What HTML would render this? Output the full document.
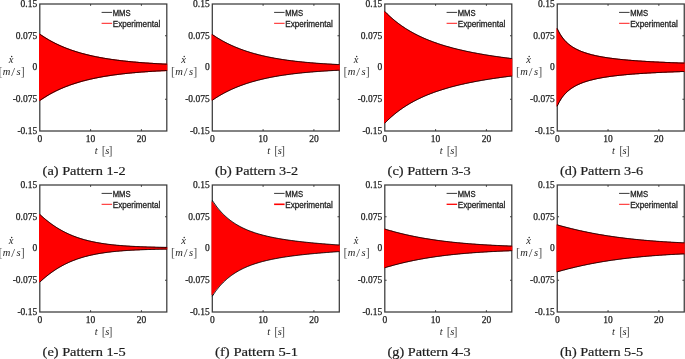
<!DOCTYPE html>
<html><head><meta charset="utf-8"><style>
html,body{margin:0;padding:0;background:#fff;width:685px;height:359px;overflow:hidden}
svg{display:block;will-change:transform}
text{fill:#1e1e1e}
.t{font-family:"Liberation Serif",serif;font-size:9.5px;stroke:#1e1e1e;stroke-width:0.25px}
.l{font-family:"Liberation Serif",serif;font-size:10.5px}
.b{font-family:"Liberation Serif",serif;font-size:12px;fill:#555}
.c{font-family:"Liberation Serif",serif;font-size:12.3px;stroke:#1e1e1e;stroke-width:0.2px}
.s{font-family:"Liberation Sans",sans-serif;font-size:8.8px;fill:#222;stroke:#222;stroke-width:0.3px}
</style></head><body>
<svg width="685" height="359" viewBox="0 0 685 359">
<rect width="685" height="359" fill="#fff"/>
<g>
<rect x="39.80" y="4.00" width="127.00" height="127.00" fill="none" stroke="#3a3a3a" stroke-width="1.25"/>
<path fill="none" stroke="#3a3a3a" stroke-width="1" d="M90.60,131.00V129.20M90.60,4.00V5.80M141.40,131.00V129.20M141.40,4.00V5.80M39.80,99.25H41.60M166.80,99.25H165.00M39.80,67.50H41.60M166.80,67.50H165.00M39.80,35.75H41.60M166.80,35.75H165.00"/>
<path fill="#ff0000" d="M39.00,33.61 L40.60,34.17 L41.40,34.72 L42.20,35.26 L42.99,35.79 L43.79,36.31 L44.59,36.82 L45.39,37.32 L46.19,37.82 L46.99,38.30 L47.79,38.78 L48.59,39.24 L49.38,39.70 L50.18,40.15 L50.98,40.59 L51.78,41.03 L52.58,41.46 L53.38,41.87 L54.18,42.29 L54.98,42.69 L55.77,43.09 L56.57,43.48 L57.37,43.86 L58.17,44.24 L58.97,44.61 L59.77,44.97 L60.57,45.33 L61.37,45.68 L62.16,46.02 L62.96,46.36 L63.76,46.69 L64.56,47.02 L65.36,47.34 L66.16,47.66 L66.96,47.96 L67.76,48.27 L68.55,48.57 L69.35,48.86 L70.15,49.15 L70.95,49.43 L71.75,49.71 L72.55,49.98 L73.35,50.25 L74.15,50.52 L74.94,50.77 L75.74,51.03 L76.54,51.28 L77.34,51.53 L78.14,51.77 L78.94,52.00 L79.74,52.24 L80.54,52.47 L81.33,52.69 L82.13,52.91 L82.93,53.13 L83.73,53.34 L84.53,53.55 L85.33,53.76 L86.13,53.96 L86.93,54.16 L87.72,54.36 L88.52,54.55 L89.32,54.74 L90.12,54.92 L90.92,55.11 L91.72,55.29 L92.52,55.46 L93.32,55.63 L94.11,55.80 L94.91,55.97 L95.71,56.14 L96.51,56.30 L97.31,56.46 L98.11,56.61 L98.91,56.77 L99.71,56.92 L100.50,57.06 L101.30,57.21 L102.10,57.35 L102.90,57.49 L103.70,57.63 L104.50,57.77 L105.30,57.90 L106.10,58.03 L106.89,58.16 L107.69,58.29 L108.49,58.41 L109.29,58.54 L110.09,58.66 L110.89,58.78 L111.69,58.89 L112.49,59.01 L113.28,59.12 L114.08,59.23 L114.88,59.34 L115.68,59.45 L116.48,59.55 L117.28,59.66 L118.08,59.76 L118.88,59.86 L119.67,59.96 L120.47,60.05 L121.27,60.15 L122.07,60.24 L122.87,60.33 L123.67,60.42 L124.47,60.51 L125.27,60.60 L126.06,60.69 L126.86,60.77 L127.66,60.85 L128.46,60.94 L129.26,61.02 L130.06,61.10 L130.86,61.17 L131.66,61.25 L132.45,61.33 L133.25,61.40 L134.05,61.47 L134.85,61.54 L135.65,61.62 L136.45,61.68 L137.25,61.75 L138.05,61.82 L138.84,61.89 L139.64,61.95 L140.44,62.01 L141.24,62.08 L142.04,62.14 L142.84,62.20 L143.64,62.26 L144.44,62.32 L145.23,62.38 L146.03,62.43 L146.83,62.49 L147.63,62.54 L148.43,62.60 L149.23,62.65 L150.03,62.70 L150.83,62.76 L151.62,62.81 L152.42,62.86 L153.22,62.91 L154.02,62.95 L154.82,63.00 L155.62,63.05 L156.42,63.10 L157.22,63.14 L158.01,63.19 L158.81,63.23 L159.61,63.27 L160.41,63.32 L161.21,63.36 L162.01,63.40 L162.81,63.44 L163.61,63.48 L164.40,63.52 L165.20,63.56 L166.00,63.60 L167.30,63.63 L167.30,71.07 L166.00,71.10 L165.20,71.14 L164.40,71.18 L163.61,71.22 L162.81,71.26 L162.01,71.30 L161.21,71.34 L160.41,71.38 L159.61,71.43 L158.81,71.47 L158.01,71.51 L157.22,71.56 L156.42,71.60 L155.62,71.65 L154.82,71.70 L154.02,71.75 L153.22,71.79 L152.42,71.84 L151.62,71.89 L150.83,71.94 L150.03,72.00 L149.23,72.05 L148.43,72.10 L147.63,72.16 L146.83,72.21 L146.03,72.27 L145.23,72.32 L144.44,72.38 L143.64,72.44 L142.84,72.50 L142.04,72.56 L141.24,72.62 L140.44,72.69 L139.64,72.75 L138.84,72.81 L138.05,72.88 L137.25,72.95 L136.45,73.02 L135.65,73.08 L134.85,73.16 L134.05,73.23 L133.25,73.30 L132.45,73.37 L131.66,73.45 L130.86,73.53 L130.06,73.60 L129.26,73.68 L128.46,73.76 L127.66,73.85 L126.86,73.93 L126.06,74.01 L125.27,74.10 L124.47,74.19 L123.67,74.28 L122.87,74.37 L122.07,74.46 L121.27,74.55 L120.47,74.65 L119.67,74.74 L118.88,74.84 L118.08,74.94 L117.28,75.04 L116.48,75.15 L115.68,75.25 L114.88,75.36 L114.08,75.47 L113.28,75.58 L112.49,75.69 L111.69,75.81 L110.89,75.92 L110.09,76.04 L109.29,76.16 L108.49,76.29 L107.69,76.41 L106.89,76.54 L106.10,76.67 L105.30,76.80 L104.50,76.93 L103.70,77.07 L102.90,77.21 L102.10,77.35 L101.30,77.49 L100.50,77.64 L99.71,77.78 L98.91,77.93 L98.11,78.09 L97.31,78.24 L96.51,78.40 L95.71,78.56 L94.91,78.73 L94.11,78.90 L93.32,79.07 L92.52,79.24 L91.72,79.41 L90.92,79.59 L90.12,79.78 L89.32,79.96 L88.52,80.15 L87.72,80.34 L86.93,80.54 L86.13,80.74 L85.33,80.94 L84.53,81.15 L83.73,81.36 L82.93,81.57 L82.13,81.79 L81.33,82.01 L80.54,82.23 L79.74,82.46 L78.94,82.70 L78.14,82.93 L77.34,83.17 L76.54,83.42 L75.74,83.67 L74.94,83.93 L74.15,84.18 L73.35,84.45 L72.55,84.72 L71.75,84.99 L70.95,85.27 L70.15,85.55 L69.35,85.84 L68.55,86.13 L67.76,86.43 L66.96,86.74 L66.16,87.04 L65.36,87.36 L64.56,87.68 L63.76,88.01 L62.96,88.34 L62.16,88.68 L61.37,89.02 L60.57,89.37 L59.77,89.73 L58.97,90.09 L58.17,90.46 L57.37,90.84 L56.57,91.22 L55.77,91.61 L54.98,92.01 L54.18,92.41 L53.38,92.83 L52.58,93.24 L51.78,93.67 L50.98,94.11 L50.18,94.55 L49.38,95.00 L48.59,95.46 L47.79,95.92 L46.99,96.40 L46.19,96.88 L45.39,97.38 L44.59,97.88 L43.79,98.39 L42.99,98.91 L42.20,99.44 L41.40,99.98 L40.60,100.53 L39.00,101.09Z"/>
<path fill="none" stroke="#000" stroke-width="0.95" d="M39.80,34.16 L40.60,34.72 L41.40,35.27 L42.20,35.81 L42.99,36.34 L43.79,36.86 L44.59,37.37 L45.39,37.87 L46.19,38.37 L46.99,38.85 L47.79,39.33 L48.59,39.79 L49.38,40.25 L50.18,40.70 L50.98,41.14 L51.78,41.58 L52.58,42.01 L53.38,42.42 L54.18,42.84 L54.98,43.24 L55.77,43.64 L56.57,44.03 L57.37,44.41 L58.17,44.79 L58.97,45.16 L59.77,45.52 L60.57,45.88 L61.37,46.23 L62.16,46.57 L62.96,46.91 L63.76,47.24 L64.56,47.57 L65.36,47.89 L66.16,48.21 L66.96,48.51 L67.76,48.82 L68.55,49.12 L69.35,49.41 L70.15,49.70 L70.95,49.98 L71.75,50.26 L72.55,50.53 L73.35,50.80 L74.15,51.07 L74.94,51.32 L75.74,51.58 L76.54,51.83 L77.34,52.08 L78.14,52.32 L78.94,52.55 L79.74,52.79 L80.54,53.02 L81.33,53.24 L82.13,53.46 L82.93,53.68 L83.73,53.89 L84.53,54.10 L85.33,54.31 L86.13,54.51 L86.93,54.71 L87.72,54.91 L88.52,55.10 L89.32,55.29 L90.12,55.47 L90.92,55.66 L91.72,55.84 L92.52,56.01 L93.32,56.18 L94.11,56.35 L94.91,56.52 L95.71,56.69 L96.51,56.85 L97.31,57.01 L98.11,57.16 L98.91,57.32 L99.71,57.47 L100.50,57.61 L101.30,57.76 L102.10,57.90 L102.90,58.04 L103.70,58.18 L104.50,58.32 L105.30,58.45 L106.10,58.58 L106.89,58.71 L107.69,58.84 L108.49,58.96 L109.29,59.09 L110.09,59.21 L110.89,59.33 L111.69,59.44 L112.49,59.56 L113.28,59.67 L114.08,59.78 L114.88,59.89 L115.68,60.00 L116.48,60.10 L117.28,60.21 L118.08,60.31 L118.88,60.41 L119.67,60.51 L120.47,60.60 L121.27,60.70 L122.07,60.79 L122.87,60.88 L123.67,60.97 L124.47,61.06 L125.27,61.15 L126.06,61.24 L126.86,61.32 L127.66,61.40 L128.46,61.49 L129.26,61.57 L130.06,61.65 L130.86,61.72 L131.66,61.80 L132.45,61.88 L133.25,61.95 L134.05,62.02 L134.85,62.09 L135.65,62.17 L136.45,62.23 L137.25,62.30 L138.05,62.37 L138.84,62.44 L139.64,62.50 L140.44,62.56 L141.24,62.63 L142.04,62.69 L142.84,62.75 L143.64,62.81 L144.44,62.87 L145.23,62.93 L146.03,62.98 L146.83,63.04 L147.63,63.09 L148.43,63.15 L149.23,63.20 L150.03,63.25 L150.83,63.31 L151.62,63.36 L152.42,63.41 L153.22,63.46 L154.02,63.50 L154.82,63.55 L155.62,63.60 L156.42,63.65 L157.22,63.69 L158.01,63.74 L158.81,63.78 L159.61,63.82 L160.41,63.87 L161.21,63.91 L162.01,63.95 L162.81,63.99 L163.61,64.03 L164.40,64.07 L165.20,64.11 L166.00,64.15 L166.80,64.18"/>
<path fill="none" stroke="#000" stroke-width="0.95" d="M39.80,100.54 L40.60,99.98 L41.40,99.43 L42.20,98.89 L42.99,98.36 L43.79,97.84 L44.59,97.33 L45.39,96.83 L46.19,96.33 L46.99,95.85 L47.79,95.37 L48.59,94.91 L49.38,94.45 L50.18,94.00 L50.98,93.56 L51.78,93.12 L52.58,92.69 L53.38,92.28 L54.18,91.86 L54.98,91.46 L55.77,91.06 L56.57,90.67 L57.37,90.29 L58.17,89.91 L58.97,89.54 L59.77,89.18 L60.57,88.82 L61.37,88.47 L62.16,88.13 L62.96,87.79 L63.76,87.46 L64.56,87.13 L65.36,86.81 L66.16,86.49 L66.96,86.19 L67.76,85.88 L68.55,85.58 L69.35,85.29 L70.15,85.00 L70.95,84.72 L71.75,84.44 L72.55,84.17 L73.35,83.90 L74.15,83.63 L74.94,83.38 L75.74,83.12 L76.54,82.87 L77.34,82.62 L78.14,82.38 L78.94,82.15 L79.74,81.91 L80.54,81.68 L81.33,81.46 L82.13,81.24 L82.93,81.02 L83.73,80.81 L84.53,80.60 L85.33,80.39 L86.13,80.19 L86.93,79.99 L87.72,79.79 L88.52,79.60 L89.32,79.41 L90.12,79.23 L90.92,79.04 L91.72,78.86 L92.52,78.69 L93.32,78.52 L94.11,78.35 L94.91,78.18 L95.71,78.01 L96.51,77.85 L97.31,77.69 L98.11,77.54 L98.91,77.38 L99.71,77.23 L100.50,77.09 L101.30,76.94 L102.10,76.80 L102.90,76.66 L103.70,76.52 L104.50,76.38 L105.30,76.25 L106.10,76.12 L106.89,75.99 L107.69,75.86 L108.49,75.74 L109.29,75.61 L110.09,75.49 L110.89,75.37 L111.69,75.26 L112.49,75.14 L113.28,75.03 L114.08,74.92 L114.88,74.81 L115.68,74.70 L116.48,74.60 L117.28,74.49 L118.08,74.39 L118.88,74.29 L119.67,74.19 L120.47,74.10 L121.27,74.00 L122.07,73.91 L122.87,73.82 L123.67,73.73 L124.47,73.64 L125.27,73.55 L126.06,73.46 L126.86,73.38 L127.66,73.30 L128.46,73.21 L129.26,73.13 L130.06,73.05 L130.86,72.98 L131.66,72.90 L132.45,72.82 L133.25,72.75 L134.05,72.68 L134.85,72.61 L135.65,72.53 L136.45,72.47 L137.25,72.40 L138.05,72.33 L138.84,72.26 L139.64,72.20 L140.44,72.14 L141.24,72.07 L142.04,72.01 L142.84,71.95 L143.64,71.89 L144.44,71.83 L145.23,71.77 L146.03,71.72 L146.83,71.66 L147.63,71.61 L148.43,71.55 L149.23,71.50 L150.03,71.45 L150.83,71.39 L151.62,71.34 L152.42,71.29 L153.22,71.24 L154.02,71.20 L154.82,71.15 L155.62,71.10 L156.42,71.05 L157.22,71.01 L158.01,70.96 L158.81,70.92 L159.61,70.88 L160.41,70.83 L161.21,70.79 L162.01,70.75 L162.81,70.71 L163.61,70.67 L164.40,70.63 L165.20,70.59 L166.00,70.55 L166.80,70.52"/>
<path stroke="#222" stroke-width="0.9" d="M101.60,12.40H112.10"/>
<path stroke="#ff0000" stroke-width="0.9" d="M101.60,23.30H112.10"/>
<text class="s" x="112.70" y="16.10" textLength="17.9" lengthAdjust="spacingAndGlyphs">MMS</text>
<text class="s" x="112.70" y="27.00" textLength="47.6" lengthAdjust="spacingAndGlyphs">Experimental</text>
<text class="t" x="37.20" y="6.90" text-anchor="end">0.15</text>
<text class="t" x="37.20" y="38.65" text-anchor="end">0.075</text>
<text class="t" x="37.20" y="70.40" text-anchor="end">0</text>
<text class="t" x="37.20" y="102.15" text-anchor="end">-0.075</text>
<text class="t" x="37.20" y="133.90" text-anchor="end">-0.15</text>
<text class="t" x="39.80" y="142.00" text-anchor="middle">0</text>
<text class="t" x="90.60" y="142.00" text-anchor="middle">10</text>
<text class="t" x="141.40" y="142.00" text-anchor="middle">20</text>
<text class="l" x="96.10" y="154.40" text-anchor="middle" font-style="italic">t</text>
<text class="b" x="103.80" y="154.70" text-anchor="middle">[</text>
<text class="l" x="107.20" y="154.40" text-anchor="middle" font-style="italic">s</text>
<text class="b" x="110.40" y="154.70" text-anchor="middle">]</text>
<text class="l" x="11.20" y="62.60" text-anchor="middle" font-style="italic">x</text>
<circle cx="11.70" cy="56.50" r="0.7" fill="#1e1e1e"/>
<text class="b" x="0.60" y="75.50" text-anchor="middle">[</text>
<text class="l" x="6.60" y="75.20" text-anchor="middle" font-style="italic">m</text>
<text class="b" x="13.20" y="76.00" text-anchor="middle" style="font-size:13.5px;fill:#444">/</text>
<text class="l" x="18.50" y="75.20" text-anchor="middle" font-style="italic">s</text>
<text class="b" x="22.70" y="75.50" text-anchor="middle">]</text>
<text class="c" x="84.10" y="175.00" text-anchor="middle" textLength="83" lengthAdjust="spacingAndGlyphs">(a) Pattern 1-2</text>
</g>
<g>
<rect x="212.30" y="4.00" width="127.00" height="127.00" fill="none" stroke="#3a3a3a" stroke-width="1.25"/>
<path fill="none" stroke="#3a3a3a" stroke-width="1" d="M263.10,131.00V129.20M263.10,4.00V5.80M313.90,131.00V129.20M313.90,4.00V5.80M212.30,99.25H214.10M339.30,99.25H337.50M212.30,67.50H214.10M339.30,67.50H337.50M212.30,35.75H214.10M339.30,35.75H337.50"/>
<path fill="#ff0000" d="M211.50,34.24 L213.10,34.79 L213.90,35.32 L214.70,35.85 L215.49,36.37 L216.29,36.88 L217.09,37.38 L217.89,37.87 L218.69,38.36 L219.49,38.83 L220.29,39.30 L221.09,39.76 L221.88,40.21 L222.68,40.66 L223.48,41.09 L224.28,41.52 L225.08,41.94 L225.88,42.36 L226.68,42.77 L227.48,43.17 L228.27,43.56 L229.07,43.95 L229.87,44.33 L230.67,44.70 L231.47,45.07 L232.27,45.43 L233.07,45.78 L233.87,46.13 L234.66,46.48 L235.46,46.81 L236.26,47.14 L237.06,47.47 L237.86,47.79 L238.66,48.10 L239.46,48.41 L240.26,48.72 L241.05,49.02 L241.85,49.31 L242.65,49.60 L243.45,49.88 L244.25,50.16 L245.05,50.43 L245.85,50.70 L246.65,50.97 L247.44,51.23 L248.24,51.48 L249.04,51.74 L249.84,51.98 L250.64,52.23 L251.44,52.46 L252.24,52.70 L253.04,52.93 L253.83,53.16 L254.63,53.38 L255.43,53.60 L256.23,53.81 L257.03,54.03 L257.83,54.23 L258.63,54.44 L259.43,54.64 L260.22,54.84 L261.02,55.03 L261.82,55.22 L262.62,55.41 L263.42,55.60 L264.22,55.78 L265.02,55.96 L265.82,56.13 L266.61,56.30 L267.41,56.47 L268.21,56.64 L269.01,56.80 L269.81,56.97 L270.61,57.12 L271.41,57.28 L272.21,57.43 L273.00,57.58 L273.80,57.73 L274.60,57.88 L275.40,58.02 L276.20,58.16 L277.00,58.30 L277.80,58.43 L278.60,58.57 L279.39,58.70 L280.19,58.83 L280.99,58.96 L281.79,59.08 L282.59,59.20 L283.39,59.32 L284.19,59.44 L284.99,59.56 L285.78,59.67 L286.58,59.79 L287.38,59.90 L288.18,60.01 L288.98,60.11 L289.78,60.22 L290.58,60.32 L291.38,60.43 L292.17,60.53 L292.97,60.62 L293.77,60.72 L294.57,60.82 L295.37,60.91 L296.17,61.00 L296.97,61.09 L297.77,61.18 L298.56,61.27 L299.36,61.36 L300.16,61.44 L300.96,61.53 L301.76,61.61 L302.56,61.69 L303.36,61.77 L304.16,61.85 L304.95,61.92 L305.75,62.00 L306.55,62.07 L307.35,62.15 L308.15,62.22 L308.95,62.29 L309.75,62.36 L310.55,62.43 L311.34,62.49 L312.14,62.56 L312.94,62.62 L313.74,62.69 L314.54,62.75 L315.34,62.81 L316.14,62.88 L316.94,62.94 L317.73,62.99 L318.53,63.05 L319.33,63.11 L320.13,63.17 L320.93,63.22 L321.73,63.28 L322.53,63.33 L323.33,63.38 L324.12,63.43 L324.92,63.48 L325.72,63.53 L326.52,63.58 L327.32,63.63 L328.12,63.68 L328.92,63.73 L329.72,63.77 L330.51,63.82 L331.31,63.86 L332.11,63.91 L332.91,63.95 L333.71,63.99 L334.51,64.04 L335.31,64.08 L336.11,64.12 L336.90,64.16 L337.70,64.20 L338.50,64.24 L339.80,64.27 L339.80,70.53 L338.50,70.56 L337.70,70.60 L336.90,70.64 L336.11,70.68 L335.31,70.72 L334.51,70.76 L333.71,70.81 L332.91,70.85 L332.11,70.89 L331.31,70.94 L330.51,70.98 L329.72,71.03 L328.92,71.07 L328.12,71.12 L327.32,71.17 L326.52,71.22 L325.72,71.27 L324.92,71.32 L324.12,71.37 L323.33,71.42 L322.53,71.47 L321.73,71.52 L320.93,71.58 L320.13,71.63 L319.33,71.69 L318.53,71.75 L317.73,71.81 L316.94,71.86 L316.14,71.92 L315.34,71.99 L314.54,72.05 L313.74,72.11 L312.94,72.18 L312.14,72.24 L311.34,72.31 L310.55,72.37 L309.75,72.44 L308.95,72.51 L308.15,72.58 L307.35,72.65 L306.55,72.73 L305.75,72.80 L304.95,72.88 L304.16,72.95 L303.36,73.03 L302.56,73.11 L301.76,73.19 L300.96,73.27 L300.16,73.36 L299.36,73.44 L298.56,73.53 L297.77,73.62 L296.97,73.71 L296.17,73.80 L295.37,73.89 L294.57,73.98 L293.77,74.08 L292.97,74.18 L292.17,74.27 L291.38,74.37 L290.58,74.48 L289.78,74.58 L288.98,74.69 L288.18,74.79 L287.38,74.90 L286.58,75.01 L285.78,75.13 L284.99,75.24 L284.19,75.36 L283.39,75.48 L282.59,75.60 L281.79,75.72 L280.99,75.84 L280.19,75.97 L279.39,76.10 L278.60,76.23 L277.80,76.37 L277.00,76.50 L276.20,76.64 L275.40,76.78 L274.60,76.92 L273.80,77.07 L273.00,77.22 L272.21,77.37 L271.41,77.52 L270.61,77.68 L269.81,77.83 L269.01,78.00 L268.21,78.16 L267.41,78.33 L266.61,78.50 L265.82,78.67 L265.02,78.84 L264.22,79.02 L263.42,79.20 L262.62,79.39 L261.82,79.58 L261.02,79.77 L260.22,79.96 L259.43,80.16 L258.63,80.36 L257.83,80.57 L257.03,80.77 L256.23,80.99 L255.43,81.20 L254.63,81.42 L253.83,81.64 L253.04,81.87 L252.24,82.10 L251.44,82.34 L250.64,82.57 L249.84,82.82 L249.04,83.06 L248.24,83.32 L247.44,83.57 L246.65,83.83 L245.85,84.10 L245.05,84.37 L244.25,84.64 L243.45,84.92 L242.65,85.20 L241.85,85.49 L241.05,85.78 L240.26,86.08 L239.46,86.39 L238.66,86.70 L237.86,87.01 L237.06,87.33 L236.26,87.66 L235.46,87.99 L234.66,88.32 L233.87,88.67 L233.07,89.02 L232.27,89.37 L231.47,89.73 L230.67,90.10 L229.87,90.47 L229.07,90.85 L228.27,91.24 L227.48,91.63 L226.68,92.03 L225.88,92.44 L225.08,92.86 L224.28,93.28 L223.48,93.71 L222.68,94.14 L221.88,94.59 L221.09,95.04 L220.29,95.50 L219.49,95.97 L218.69,96.44 L217.89,96.93 L217.09,97.42 L216.29,97.92 L215.49,98.43 L214.70,98.95 L213.90,99.48 L213.10,100.01 L211.50,100.56Z"/>
<path fill="none" stroke="#000" stroke-width="0.95" d="M212.30,34.54 L213.10,35.09 L213.90,35.62 L214.70,36.15 L215.49,36.67 L216.29,37.18 L217.09,37.68 L217.89,38.17 L218.69,38.66 L219.49,39.13 L220.29,39.60 L221.09,40.06 L221.88,40.51 L222.68,40.96 L223.48,41.39 L224.28,41.82 L225.08,42.24 L225.88,42.66 L226.68,43.07 L227.48,43.47 L228.27,43.86 L229.07,44.25 L229.87,44.63 L230.67,45.00 L231.47,45.37 L232.27,45.73 L233.07,46.08 L233.87,46.43 L234.66,46.78 L235.46,47.11 L236.26,47.44 L237.06,47.77 L237.86,48.09 L238.66,48.40 L239.46,48.71 L240.26,49.02 L241.05,49.32 L241.85,49.61 L242.65,49.90 L243.45,50.18 L244.25,50.46 L245.05,50.73 L245.85,51.00 L246.65,51.27 L247.44,51.53 L248.24,51.78 L249.04,52.04 L249.84,52.28 L250.64,52.53 L251.44,52.76 L252.24,53.00 L253.04,53.23 L253.83,53.46 L254.63,53.68 L255.43,53.90 L256.23,54.11 L257.03,54.33 L257.83,54.53 L258.63,54.74 L259.43,54.94 L260.22,55.14 L261.02,55.33 L261.82,55.52 L262.62,55.71 L263.42,55.90 L264.22,56.08 L265.02,56.26 L265.82,56.43 L266.61,56.60 L267.41,56.77 L268.21,56.94 L269.01,57.10 L269.81,57.27 L270.61,57.42 L271.41,57.58 L272.21,57.73 L273.00,57.88 L273.80,58.03 L274.60,58.18 L275.40,58.32 L276.20,58.46 L277.00,58.60 L277.80,58.73 L278.60,58.87 L279.39,59.00 L280.19,59.13 L280.99,59.26 L281.79,59.38 L282.59,59.50 L283.39,59.62 L284.19,59.74 L284.99,59.86 L285.78,59.97 L286.58,60.09 L287.38,60.20 L288.18,60.31 L288.98,60.41 L289.78,60.52 L290.58,60.62 L291.38,60.73 L292.17,60.83 L292.97,60.92 L293.77,61.02 L294.57,61.12 L295.37,61.21 L296.17,61.30 L296.97,61.39 L297.77,61.48 L298.56,61.57 L299.36,61.66 L300.16,61.74 L300.96,61.83 L301.76,61.91 L302.56,61.99 L303.36,62.07 L304.16,62.15 L304.95,62.22 L305.75,62.30 L306.55,62.37 L307.35,62.45 L308.15,62.52 L308.95,62.59 L309.75,62.66 L310.55,62.73 L311.34,62.79 L312.14,62.86 L312.94,62.92 L313.74,62.99 L314.54,63.05 L315.34,63.11 L316.14,63.18 L316.94,63.24 L317.73,63.29 L318.53,63.35 L319.33,63.41 L320.13,63.47 L320.93,63.52 L321.73,63.58 L322.53,63.63 L323.33,63.68 L324.12,63.73 L324.92,63.78 L325.72,63.83 L326.52,63.88 L327.32,63.93 L328.12,63.98 L328.92,64.03 L329.72,64.07 L330.51,64.12 L331.31,64.16 L332.11,64.21 L332.91,64.25 L333.71,64.29 L334.51,64.34 L335.31,64.38 L336.11,64.42 L336.90,64.46 L337.70,64.50 L338.50,64.54 L339.30,64.57"/>
<path fill="none" stroke="#000" stroke-width="0.95" d="M212.30,100.26 L213.10,99.71 L213.90,99.18 L214.70,98.65 L215.49,98.13 L216.29,97.62 L217.09,97.12 L217.89,96.63 L218.69,96.14 L219.49,95.67 L220.29,95.20 L221.09,94.74 L221.88,94.29 L222.68,93.84 L223.48,93.41 L224.28,92.98 L225.08,92.56 L225.88,92.14 L226.68,91.73 L227.48,91.33 L228.27,90.94 L229.07,90.55 L229.87,90.17 L230.67,89.80 L231.47,89.43 L232.27,89.07 L233.07,88.72 L233.87,88.37 L234.66,88.02 L235.46,87.69 L236.26,87.36 L237.06,87.03 L237.86,86.71 L238.66,86.40 L239.46,86.09 L240.26,85.78 L241.05,85.48 L241.85,85.19 L242.65,84.90 L243.45,84.62 L244.25,84.34 L245.05,84.07 L245.85,83.80 L246.65,83.53 L247.44,83.27 L248.24,83.02 L249.04,82.76 L249.84,82.52 L250.64,82.27 L251.44,82.04 L252.24,81.80 L253.04,81.57 L253.83,81.34 L254.63,81.12 L255.43,80.90 L256.23,80.69 L257.03,80.47 L257.83,80.27 L258.63,80.06 L259.43,79.86 L260.22,79.66 L261.02,79.47 L261.82,79.28 L262.62,79.09 L263.42,78.90 L264.22,78.72 L265.02,78.54 L265.82,78.37 L266.61,78.20 L267.41,78.03 L268.21,77.86 L269.01,77.70 L269.81,77.53 L270.61,77.38 L271.41,77.22 L272.21,77.07 L273.00,76.92 L273.80,76.77 L274.60,76.62 L275.40,76.48 L276.20,76.34 L277.00,76.20 L277.80,76.07 L278.60,75.93 L279.39,75.80 L280.19,75.67 L280.99,75.54 L281.79,75.42 L282.59,75.30 L283.39,75.18 L284.19,75.06 L284.99,74.94 L285.78,74.83 L286.58,74.71 L287.38,74.60 L288.18,74.49 L288.98,74.39 L289.78,74.28 L290.58,74.18 L291.38,74.07 L292.17,73.97 L292.97,73.88 L293.77,73.78 L294.57,73.68 L295.37,73.59 L296.17,73.50 L296.97,73.41 L297.77,73.32 L298.56,73.23 L299.36,73.14 L300.16,73.06 L300.96,72.97 L301.76,72.89 L302.56,72.81 L303.36,72.73 L304.16,72.65 L304.95,72.58 L305.75,72.50 L306.55,72.43 L307.35,72.35 L308.15,72.28 L308.95,72.21 L309.75,72.14 L310.55,72.07 L311.34,72.01 L312.14,71.94 L312.94,71.88 L313.74,71.81 L314.54,71.75 L315.34,71.69 L316.14,71.62 L316.94,71.56 L317.73,71.51 L318.53,71.45 L319.33,71.39 L320.13,71.33 L320.93,71.28 L321.73,71.22 L322.53,71.17 L323.33,71.12 L324.12,71.07 L324.92,71.02 L325.72,70.97 L326.52,70.92 L327.32,70.87 L328.12,70.82 L328.92,70.77 L329.72,70.73 L330.51,70.68 L331.31,70.64 L332.11,70.59 L332.91,70.55 L333.71,70.51 L334.51,70.46 L335.31,70.42 L336.11,70.38 L336.90,70.34 L337.70,70.30 L338.50,70.26 L339.30,70.23"/>
<path stroke="#222" stroke-width="0.9" d="M274.10,12.40H284.60"/>
<path stroke="#ff0000" stroke-width="0.9" d="M274.10,23.30H284.60"/>
<text class="s" x="285.20" y="16.10" textLength="17.9" lengthAdjust="spacingAndGlyphs">MMS</text>
<text class="s" x="285.20" y="27.00" textLength="47.6" lengthAdjust="spacingAndGlyphs">Experimental</text>
<text class="t" x="209.70" y="6.90" text-anchor="end">0.15</text>
<text class="t" x="209.70" y="38.65" text-anchor="end">0.075</text>
<text class="t" x="209.70" y="70.40" text-anchor="end">0</text>
<text class="t" x="209.70" y="102.15" text-anchor="end">-0.075</text>
<text class="t" x="209.70" y="133.90" text-anchor="end">-0.15</text>
<text class="t" x="212.30" y="142.00" text-anchor="middle">0</text>
<text class="t" x="263.10" y="142.00" text-anchor="middle">10</text>
<text class="t" x="313.90" y="142.00" text-anchor="middle">20</text>
<text class="l" x="268.60" y="154.40" text-anchor="middle" font-style="italic">t</text>
<text class="b" x="276.30" y="154.70" text-anchor="middle">[</text>
<text class="l" x="279.70" y="154.40" text-anchor="middle" font-style="italic">s</text>
<text class="b" x="282.90" y="154.70" text-anchor="middle">]</text>
<text class="l" x="183.70" y="62.60" text-anchor="middle" font-style="italic">x</text>
<circle cx="184.20" cy="56.50" r="0.7" fill="#1e1e1e"/>
<text class="b" x="173.10" y="75.50" text-anchor="middle">[</text>
<text class="l" x="179.10" y="75.20" text-anchor="middle" font-style="italic">m</text>
<text class="b" x="185.70" y="76.00" text-anchor="middle" style="font-size:13.5px;fill:#444">/</text>
<text class="l" x="191.00" y="75.20" text-anchor="middle" font-style="italic">s</text>
<text class="b" x="195.20" y="75.50" text-anchor="middle">]</text>
<text class="c" x="256.60" y="175.00" text-anchor="middle" textLength="83" lengthAdjust="spacingAndGlyphs">(b) Pattern 3-2</text>
</g>
<g>
<rect x="384.80" y="4.00" width="127.00" height="127.00" fill="none" stroke="#3a3a3a" stroke-width="1.25"/>
<path fill="none" stroke="#3a3a3a" stroke-width="1" d="M435.60,131.00V129.20M435.60,4.00V5.80M486.40,131.00V129.20M486.40,4.00V5.80M384.80,99.25H386.60M511.80,99.25H510.00M384.80,67.50H386.60M511.80,67.50H510.00M384.80,35.75H386.60M511.80,35.75H510.00"/>
<path fill="#ff0000" d="M384.00,11.13 L385.60,11.95 L386.40,12.76 L387.20,13.55 L387.99,14.32 L388.79,15.08 L389.59,15.83 L390.39,16.56 L391.19,17.27 L391.99,17.98 L392.79,18.67 L393.59,19.34 L394.38,20.01 L395.18,20.66 L395.98,21.30 L396.78,21.93 L397.58,22.55 L398.38,23.16 L399.18,23.75 L399.98,24.34 L400.77,24.91 L401.57,25.47 L402.37,26.03 L403.17,26.57 L403.97,27.11 L404.77,27.63 L405.57,28.15 L406.37,28.65 L407.16,29.15 L407.96,29.64 L408.76,30.12 L409.56,30.60 L410.36,31.06 L411.16,31.52 L411.96,31.97 L412.76,32.41 L413.55,32.85 L414.35,33.27 L415.15,33.69 L415.95,34.11 L416.75,34.51 L417.55,34.91 L418.35,35.31 L419.15,35.70 L419.94,36.08 L420.74,36.45 L421.54,36.82 L422.34,37.19 L423.14,37.55 L423.94,37.90 L424.74,38.25 L425.54,38.59 L426.33,38.92 L427.13,39.26 L427.93,39.58 L428.73,39.90 L429.53,40.22 L430.33,40.53 L431.13,40.84 L431.93,41.14 L432.72,41.44 L433.52,41.73 L434.32,42.02 L435.12,42.31 L435.92,42.59 L436.72,42.87 L437.52,43.14 L438.32,43.41 L439.11,43.68 L439.91,43.94 L440.71,44.20 L441.51,44.45 L442.31,44.71 L443.11,44.95 L443.91,45.20 L444.71,45.44 L445.50,45.68 L446.30,45.91 L447.10,46.15 L447.90,46.37 L448.70,46.60 L449.50,46.82 L450.30,47.04 L451.10,47.26 L451.89,47.48 L452.69,47.69 L453.49,47.90 L454.29,48.10 L455.09,48.31 L455.89,48.51 L456.69,48.71 L457.49,48.90 L458.28,49.10 L459.08,49.29 L459.88,49.48 L460.68,49.66 L461.48,49.85 L462.28,50.03 L463.08,50.21 L463.88,50.39 L464.67,50.57 L465.47,50.74 L466.27,50.91 L467.07,51.08 L467.87,51.25 L468.67,51.42 L469.47,51.58 L470.27,51.74 L471.06,51.90 L471.86,52.06 L472.66,52.22 L473.46,52.38 L474.26,52.53 L475.06,52.68 L475.86,52.83 L476.66,52.98 L477.45,53.13 L478.25,53.27 L479.05,53.42 L479.85,53.56 L480.65,53.70 L481.45,53.84 L482.25,53.98 L483.05,54.12 L483.84,54.25 L484.64,54.39 L485.44,54.52 L486.24,54.65 L487.04,54.78 L487.84,54.91 L488.64,55.04 L489.44,55.16 L490.23,55.29 L491.03,55.41 L491.83,55.53 L492.63,55.66 L493.43,55.78 L494.23,55.90 L495.03,56.01 L495.83,56.13 L496.62,56.25 L497.42,56.36 L498.22,56.47 L499.02,56.59 L499.82,56.70 L500.62,56.81 L501.42,56.92 L502.22,57.03 L503.01,57.13 L503.81,57.24 L504.61,57.35 L505.41,57.45 L506.21,57.55 L507.01,57.66 L507.81,57.76 L508.61,57.86 L509.40,57.96 L510.20,58.06 L511.00,58.16 L512.30,58.25 L512.30,76.35 L511.00,76.44 L510.20,76.54 L509.40,76.64 L508.61,76.74 L507.81,76.84 L507.01,76.94 L506.21,77.05 L505.41,77.15 L504.61,77.25 L503.81,77.36 L503.01,77.47 L502.22,77.57 L501.42,77.68 L500.62,77.79 L499.82,77.90 L499.02,78.01 L498.22,78.13 L497.42,78.24 L496.62,78.35 L495.83,78.47 L495.03,78.59 L494.23,78.70 L493.43,78.82 L492.63,78.94 L491.83,79.07 L491.03,79.19 L490.23,79.31 L489.44,79.44 L488.64,79.56 L487.84,79.69 L487.04,79.82 L486.24,79.95 L485.44,80.08 L484.64,80.21 L483.84,80.35 L483.05,80.48 L482.25,80.62 L481.45,80.76 L480.65,80.90 L479.85,81.04 L479.05,81.18 L478.25,81.33 L477.45,81.47 L476.66,81.62 L475.86,81.77 L475.06,81.92 L474.26,82.07 L473.46,82.22 L472.66,82.38 L471.86,82.54 L471.06,82.70 L470.27,82.86 L469.47,83.02 L468.67,83.18 L467.87,83.35 L467.07,83.52 L466.27,83.69 L465.47,83.86 L464.67,84.03 L463.88,84.21 L463.08,84.39 L462.28,84.57 L461.48,84.75 L460.68,84.94 L459.88,85.12 L459.08,85.31 L458.28,85.50 L457.49,85.70 L456.69,85.89 L455.89,86.09 L455.09,86.29 L454.29,86.50 L453.49,86.70 L452.69,86.91 L451.89,87.12 L451.10,87.34 L450.30,87.56 L449.50,87.78 L448.70,88.00 L447.90,88.23 L447.10,88.45 L446.30,88.69 L445.50,88.92 L444.71,89.16 L443.91,89.40 L443.11,89.65 L442.31,89.89 L441.51,90.15 L440.71,90.40 L439.91,90.66 L439.11,90.92 L438.32,91.19 L437.52,91.46 L436.72,91.73 L435.92,92.01 L435.12,92.29 L434.32,92.58 L433.52,92.87 L432.72,93.16 L431.93,93.46 L431.13,93.76 L430.33,94.07 L429.53,94.38 L428.73,94.70 L427.93,95.02 L427.13,95.34 L426.33,95.68 L425.54,96.01 L424.74,96.35 L423.94,96.70 L423.14,97.05 L422.34,97.41 L421.54,97.78 L420.74,98.15 L419.94,98.52 L419.15,98.90 L418.35,99.29 L417.55,99.69 L416.75,100.09 L415.95,100.49 L415.15,100.91 L414.35,101.33 L413.55,101.75 L412.76,102.19 L411.96,102.63 L411.16,103.08 L410.36,103.54 L409.56,104.00 L408.76,104.48 L407.96,104.96 L407.16,105.45 L406.37,105.95 L405.57,106.45 L404.77,106.97 L403.97,107.49 L403.17,108.03 L402.37,108.57 L401.57,109.13 L400.77,109.69 L399.98,110.26 L399.18,110.85 L398.38,111.44 L397.58,112.05 L396.78,112.67 L395.98,113.30 L395.18,113.94 L394.38,114.59 L393.59,115.26 L392.79,115.93 L391.99,116.62 L391.19,117.33 L390.39,118.04 L389.59,118.77 L388.79,119.52 L387.99,120.28 L387.20,121.05 L386.40,121.84 L385.60,122.65 L384.00,123.47Z"/>
<path fill="none" stroke="#000" stroke-width="0.95" d="M384.80,11.43 L385.60,12.25 L386.40,13.06 L387.20,13.85 L387.99,14.62 L388.79,15.38 L389.59,16.13 L390.39,16.86 L391.19,17.57 L391.99,18.28 L392.79,18.97 L393.59,19.64 L394.38,20.31 L395.18,20.96 L395.98,21.60 L396.78,22.23 L397.58,22.85 L398.38,23.46 L399.18,24.05 L399.98,24.64 L400.77,25.21 L401.57,25.77 L402.37,26.33 L403.17,26.87 L403.97,27.41 L404.77,27.93 L405.57,28.45 L406.37,28.95 L407.16,29.45 L407.96,29.94 L408.76,30.42 L409.56,30.90 L410.36,31.36 L411.16,31.82 L411.96,32.27 L412.76,32.71 L413.55,33.15 L414.35,33.57 L415.15,33.99 L415.95,34.41 L416.75,34.81 L417.55,35.21 L418.35,35.61 L419.15,36.00 L419.94,36.38 L420.74,36.75 L421.54,37.12 L422.34,37.49 L423.14,37.85 L423.94,38.20 L424.74,38.55 L425.54,38.89 L426.33,39.22 L427.13,39.56 L427.93,39.88 L428.73,40.20 L429.53,40.52 L430.33,40.83 L431.13,41.14 L431.93,41.44 L432.72,41.74 L433.52,42.03 L434.32,42.32 L435.12,42.61 L435.92,42.89 L436.72,43.17 L437.52,43.44 L438.32,43.71 L439.11,43.98 L439.91,44.24 L440.71,44.50 L441.51,44.75 L442.31,45.01 L443.11,45.25 L443.91,45.50 L444.71,45.74 L445.50,45.98 L446.30,46.21 L447.10,46.45 L447.90,46.67 L448.70,46.90 L449.50,47.12 L450.30,47.34 L451.10,47.56 L451.89,47.78 L452.69,47.99 L453.49,48.20 L454.29,48.40 L455.09,48.61 L455.89,48.81 L456.69,49.01 L457.49,49.20 L458.28,49.40 L459.08,49.59 L459.88,49.78 L460.68,49.96 L461.48,50.15 L462.28,50.33 L463.08,50.51 L463.88,50.69 L464.67,50.87 L465.47,51.04 L466.27,51.21 L467.07,51.38 L467.87,51.55 L468.67,51.72 L469.47,51.88 L470.27,52.04 L471.06,52.20 L471.86,52.36 L472.66,52.52 L473.46,52.68 L474.26,52.83 L475.06,52.98 L475.86,53.13 L476.66,53.28 L477.45,53.43 L478.25,53.57 L479.05,53.72 L479.85,53.86 L480.65,54.00 L481.45,54.14 L482.25,54.28 L483.05,54.42 L483.84,54.55 L484.64,54.69 L485.44,54.82 L486.24,54.95 L487.04,55.08 L487.84,55.21 L488.64,55.34 L489.44,55.46 L490.23,55.59 L491.03,55.71 L491.83,55.83 L492.63,55.96 L493.43,56.08 L494.23,56.20 L495.03,56.31 L495.83,56.43 L496.62,56.55 L497.42,56.66 L498.22,56.77 L499.02,56.89 L499.82,57.00 L500.62,57.11 L501.42,57.22 L502.22,57.33 L503.01,57.43 L503.81,57.54 L504.61,57.65 L505.41,57.75 L506.21,57.85 L507.01,57.96 L507.81,58.06 L508.61,58.16 L509.40,58.26 L510.20,58.36 L511.00,58.46 L511.80,58.55"/>
<path fill="none" stroke="#000" stroke-width="0.95" d="M384.80,123.17 L385.60,122.35 L386.40,121.54 L387.20,120.75 L387.99,119.98 L388.79,119.22 L389.59,118.47 L390.39,117.74 L391.19,117.03 L391.99,116.32 L392.79,115.63 L393.59,114.96 L394.38,114.29 L395.18,113.64 L395.98,113.00 L396.78,112.37 L397.58,111.75 L398.38,111.14 L399.18,110.55 L399.98,109.96 L400.77,109.39 L401.57,108.83 L402.37,108.27 L403.17,107.73 L403.97,107.19 L404.77,106.67 L405.57,106.15 L406.37,105.65 L407.16,105.15 L407.96,104.66 L408.76,104.18 L409.56,103.70 L410.36,103.24 L411.16,102.78 L411.96,102.33 L412.76,101.89 L413.55,101.45 L414.35,101.03 L415.15,100.61 L415.95,100.19 L416.75,99.79 L417.55,99.39 L418.35,98.99 L419.15,98.60 L419.94,98.22 L420.74,97.85 L421.54,97.48 L422.34,97.11 L423.14,96.75 L423.94,96.40 L424.74,96.05 L425.54,95.71 L426.33,95.38 L427.13,95.04 L427.93,94.72 L428.73,94.40 L429.53,94.08 L430.33,93.77 L431.13,93.46 L431.93,93.16 L432.72,92.86 L433.52,92.57 L434.32,92.28 L435.12,91.99 L435.92,91.71 L436.72,91.43 L437.52,91.16 L438.32,90.89 L439.11,90.62 L439.91,90.36 L440.71,90.10 L441.51,89.85 L442.31,89.59 L443.11,89.35 L443.91,89.10 L444.71,88.86 L445.50,88.62 L446.30,88.39 L447.10,88.15 L447.90,87.93 L448.70,87.70 L449.50,87.48 L450.30,87.26 L451.10,87.04 L451.89,86.82 L452.69,86.61 L453.49,86.40 L454.29,86.20 L455.09,85.99 L455.89,85.79 L456.69,85.59 L457.49,85.40 L458.28,85.20 L459.08,85.01 L459.88,84.82 L460.68,84.64 L461.48,84.45 L462.28,84.27 L463.08,84.09 L463.88,83.91 L464.67,83.73 L465.47,83.56 L466.27,83.39 L467.07,83.22 L467.87,83.05 L468.67,82.88 L469.47,82.72 L470.27,82.56 L471.06,82.40 L471.86,82.24 L472.66,82.08 L473.46,81.92 L474.26,81.77 L475.06,81.62 L475.86,81.47 L476.66,81.32 L477.45,81.17 L478.25,81.03 L479.05,80.88 L479.85,80.74 L480.65,80.60 L481.45,80.46 L482.25,80.32 L483.05,80.18 L483.84,80.05 L484.64,79.91 L485.44,79.78 L486.24,79.65 L487.04,79.52 L487.84,79.39 L488.64,79.26 L489.44,79.14 L490.23,79.01 L491.03,78.89 L491.83,78.77 L492.63,78.64 L493.43,78.52 L494.23,78.40 L495.03,78.29 L495.83,78.17 L496.62,78.05 L497.42,77.94 L498.22,77.83 L499.02,77.71 L499.82,77.60 L500.62,77.49 L501.42,77.38 L502.22,77.27 L503.01,77.17 L503.81,77.06 L504.61,76.95 L505.41,76.85 L506.21,76.75 L507.01,76.64 L507.81,76.54 L508.61,76.44 L509.40,76.34 L510.20,76.24 L511.00,76.14 L511.80,76.05"/>
<path stroke="#222" stroke-width="0.9" d="M446.60,12.40H457.10"/>
<path stroke="#ff0000" stroke-width="0.9" d="M446.60,23.30H457.10"/>
<text class="s" x="457.70" y="16.10" textLength="17.9" lengthAdjust="spacingAndGlyphs">MMS</text>
<text class="s" x="457.70" y="27.00" textLength="47.6" lengthAdjust="spacingAndGlyphs">Experimental</text>
<text class="t" x="382.20" y="6.90" text-anchor="end">0.15</text>
<text class="t" x="382.20" y="38.65" text-anchor="end">0.075</text>
<text class="t" x="382.20" y="70.40" text-anchor="end">0</text>
<text class="t" x="382.20" y="102.15" text-anchor="end">-0.075</text>
<text class="t" x="382.20" y="133.90" text-anchor="end">-0.15</text>
<text class="t" x="384.80" y="142.00" text-anchor="middle">0</text>
<text class="t" x="435.60" y="142.00" text-anchor="middle">10</text>
<text class="t" x="486.40" y="142.00" text-anchor="middle">20</text>
<text class="l" x="441.10" y="154.40" text-anchor="middle" font-style="italic">t</text>
<text class="b" x="448.80" y="154.70" text-anchor="middle">[</text>
<text class="l" x="452.20" y="154.40" text-anchor="middle" font-style="italic">s</text>
<text class="b" x="455.40" y="154.70" text-anchor="middle">]</text>
<text class="l" x="356.20" y="62.60" text-anchor="middle" font-style="italic">x</text>
<circle cx="356.70" cy="56.50" r="0.7" fill="#1e1e1e"/>
<text class="b" x="345.60" y="75.50" text-anchor="middle">[</text>
<text class="l" x="351.60" y="75.20" text-anchor="middle" font-style="italic">m</text>
<text class="b" x="358.20" y="76.00" text-anchor="middle" style="font-size:13.5px;fill:#444">/</text>
<text class="l" x="363.50" y="75.20" text-anchor="middle" font-style="italic">s</text>
<text class="b" x="367.70" y="75.50" text-anchor="middle">]</text>
<text class="c" x="429.10" y="175.00" text-anchor="middle" textLength="83" lengthAdjust="spacingAndGlyphs">(c) Pattern 3-3</text>
</g>
<g>
<rect x="557.25" y="4.00" width="127.00" height="127.00" fill="none" stroke="#3a3a3a" stroke-width="1.25"/>
<path fill="none" stroke="#3a3a3a" stroke-width="1" d="M608.05,131.00V129.20M608.05,4.00V5.80M658.85,131.00V129.20M658.85,4.00V5.80M557.25,99.25H559.05M684.25,99.25H682.45M557.25,67.50H559.05M684.25,67.50H682.45M557.25,35.75H559.05M684.25,35.75H682.45"/>
<path fill="#ff0000" d="M556.45,27.93 L558.05,29.68 L558.85,31.28 L559.65,32.75 L560.44,34.11 L561.24,35.36 L562.04,36.53 L562.84,37.61 L563.64,38.61 L564.44,39.56 L565.24,40.44 L566.04,41.27 L566.83,42.04 L567.63,42.78 L568.43,43.47 L569.23,44.12 L570.03,44.74 L570.83,45.33 L571.63,45.88 L572.43,46.41 L573.22,46.92 L574.02,47.40 L574.82,47.86 L575.62,48.29 L576.42,48.71 L577.22,49.11 L578.02,49.49 L578.82,49.86 L579.61,50.21 L580.41,50.55 L581.21,50.88 L582.01,51.19 L582.81,51.49 L583.61,51.78 L584.41,52.06 L585.21,52.33 L586.00,52.59 L586.80,52.85 L587.60,53.09 L588.40,53.32 L589.20,53.55 L590.00,53.77 L590.80,53.99 L591.60,54.19 L592.39,54.39 L593.19,54.59 L593.99,54.78 L594.79,54.96 L595.59,55.14 L596.39,55.31 L597.19,55.48 L597.99,55.64 L598.78,55.80 L599.58,55.95 L600.38,56.10 L601.18,56.25 L601.98,56.39 L602.78,56.53 L603.58,56.67 L604.38,56.80 L605.17,56.93 L605.97,57.05 L606.77,57.18 L607.57,57.30 L608.37,57.41 L609.17,57.53 L609.97,57.64 L610.77,57.75 L611.56,57.86 L612.36,57.96 L613.16,58.06 L613.96,58.16 L614.76,58.26 L615.56,58.36 L616.36,58.45 L617.16,58.54 L617.95,58.63 L618.75,58.72 L619.55,58.81 L620.35,58.89 L621.15,58.97 L621.95,59.05 L622.75,59.13 L623.55,59.21 L624.34,59.29 L625.14,59.36 L625.94,59.44 L626.74,59.51 L627.54,59.58 L628.34,59.65 L629.14,59.72 L629.94,59.79 L630.73,59.85 L631.53,59.92 L632.33,59.98 L633.13,60.05 L633.93,60.11 L634.73,60.17 L635.53,60.23 L636.33,60.29 L637.12,60.34 L637.92,60.40 L638.72,60.46 L639.52,60.51 L640.32,60.57 L641.12,60.62 L641.92,60.67 L642.72,60.72 L643.51,60.77 L644.31,60.82 L645.11,60.87 L645.91,60.92 L646.71,60.97 L647.51,61.02 L648.31,61.06 L649.11,61.11 L649.90,61.15 L650.70,61.20 L651.50,61.24 L652.30,61.28 L653.10,61.33 L653.90,61.37 L654.70,61.41 L655.50,61.45 L656.29,61.49 L657.09,61.53 L657.89,61.57 L658.69,61.61 L659.49,61.65 L660.29,61.68 L661.09,61.72 L661.89,61.76 L662.68,61.79 L663.48,61.83 L664.28,61.86 L665.08,61.90 L665.88,61.93 L666.68,61.97 L667.48,62.00 L668.28,62.03 L669.07,62.07 L669.87,62.10 L670.67,62.13 L671.47,62.16 L672.27,62.19 L673.07,62.22 L673.87,62.25 L674.67,62.28 L675.46,62.31 L676.26,62.34 L677.06,62.37 L677.86,62.40 L678.66,62.43 L679.46,62.45 L680.26,62.48 L681.06,62.51 L681.85,62.54 L682.65,62.56 L683.45,62.59 L684.75,62.62 L684.75,71.98 L683.45,72.01 L682.65,72.04 L681.85,72.06 L681.06,72.09 L680.26,72.12 L679.46,72.15 L678.66,72.17 L677.86,72.20 L677.06,72.23 L676.26,72.26 L675.46,72.29 L674.67,72.32 L673.87,72.35 L673.07,72.38 L672.27,72.41 L671.47,72.44 L670.67,72.47 L669.87,72.50 L669.07,72.53 L668.28,72.57 L667.48,72.60 L666.68,72.63 L665.88,72.67 L665.08,72.70 L664.28,72.74 L663.48,72.77 L662.68,72.81 L661.89,72.84 L661.09,72.88 L660.29,72.92 L659.49,72.95 L658.69,72.99 L657.89,73.03 L657.09,73.07 L656.29,73.11 L655.50,73.15 L654.70,73.19 L653.90,73.23 L653.10,73.27 L652.30,73.32 L651.50,73.36 L650.70,73.40 L649.90,73.45 L649.11,73.49 L648.31,73.54 L647.51,73.58 L646.71,73.63 L645.91,73.68 L645.11,73.73 L644.31,73.78 L643.51,73.83 L642.72,73.88 L641.92,73.93 L641.12,73.98 L640.32,74.03 L639.52,74.09 L638.72,74.14 L637.92,74.20 L637.12,74.26 L636.33,74.31 L635.53,74.37 L634.73,74.43 L633.93,74.49 L633.13,74.55 L632.33,74.62 L631.53,74.68 L630.73,74.75 L629.94,74.81 L629.14,74.88 L628.34,74.95 L627.54,75.02 L626.74,75.09 L625.94,75.16 L625.14,75.24 L624.34,75.31 L623.55,75.39 L622.75,75.47 L621.95,75.55 L621.15,75.63 L620.35,75.71 L619.55,75.79 L618.75,75.88 L617.95,75.97 L617.16,76.06 L616.36,76.15 L615.56,76.24 L614.76,76.34 L613.96,76.44 L613.16,76.54 L612.36,76.64 L611.56,76.74 L610.77,76.85 L609.97,76.96 L609.17,77.07 L608.37,77.19 L607.57,77.30 L606.77,77.42 L605.97,77.55 L605.17,77.67 L604.38,77.80 L603.58,77.93 L602.78,78.07 L601.98,78.21 L601.18,78.35 L600.38,78.50 L599.58,78.65 L598.78,78.80 L597.99,78.96 L597.19,79.12 L596.39,79.29 L595.59,79.46 L594.79,79.64 L593.99,79.82 L593.19,80.01 L592.39,80.21 L591.60,80.41 L590.80,80.61 L590.00,80.83 L589.20,81.05 L588.40,81.28 L587.60,81.51 L586.80,81.75 L586.00,82.01 L585.21,82.27 L584.41,82.54 L583.61,82.82 L582.81,83.11 L582.01,83.41 L581.21,83.72 L580.41,84.05 L579.61,84.39 L578.82,84.74 L578.02,85.11 L577.22,85.49 L576.42,85.89 L575.62,86.31 L574.82,86.74 L574.02,87.20 L573.22,87.68 L572.43,88.19 L571.63,88.72 L570.83,89.27 L570.03,89.86 L569.23,90.48 L568.43,91.13 L567.63,91.82 L566.83,92.56 L566.04,93.33 L565.24,94.16 L564.44,95.04 L563.64,95.99 L562.84,96.99 L562.04,98.07 L561.24,99.24 L560.44,100.49 L559.65,101.85 L558.85,103.32 L558.05,104.92 L556.45,106.67Z"/>
<path fill="none" stroke="#000" stroke-width="0.95" d="M557.25,28.43 L558.05,30.18 L558.85,31.78 L559.65,33.25 L560.44,34.61 L561.24,35.86 L562.04,37.03 L562.84,38.11 L563.64,39.11 L564.44,40.06 L565.24,40.94 L566.04,41.77 L566.83,42.54 L567.63,43.28 L568.43,43.97 L569.23,44.62 L570.03,45.24 L570.83,45.83 L571.63,46.38 L572.43,46.91 L573.22,47.42 L574.02,47.90 L574.82,48.36 L575.62,48.79 L576.42,49.21 L577.22,49.61 L578.02,49.99 L578.82,50.36 L579.61,50.71 L580.41,51.05 L581.21,51.38 L582.01,51.69 L582.81,51.99 L583.61,52.28 L584.41,52.56 L585.21,52.83 L586.00,53.09 L586.80,53.35 L587.60,53.59 L588.40,53.82 L589.20,54.05 L590.00,54.27 L590.80,54.49 L591.60,54.69 L592.39,54.89 L593.19,55.09 L593.99,55.28 L594.79,55.46 L595.59,55.64 L596.39,55.81 L597.19,55.98 L597.99,56.14 L598.78,56.30 L599.58,56.45 L600.38,56.60 L601.18,56.75 L601.98,56.89 L602.78,57.03 L603.58,57.17 L604.38,57.30 L605.17,57.43 L605.97,57.55 L606.77,57.68 L607.57,57.80 L608.37,57.91 L609.17,58.03 L609.97,58.14 L610.77,58.25 L611.56,58.36 L612.36,58.46 L613.16,58.56 L613.96,58.66 L614.76,58.76 L615.56,58.86 L616.36,58.95 L617.16,59.04 L617.95,59.13 L618.75,59.22 L619.55,59.31 L620.35,59.39 L621.15,59.47 L621.95,59.55 L622.75,59.63 L623.55,59.71 L624.34,59.79 L625.14,59.86 L625.94,59.94 L626.74,60.01 L627.54,60.08 L628.34,60.15 L629.14,60.22 L629.94,60.29 L630.73,60.35 L631.53,60.42 L632.33,60.48 L633.13,60.55 L633.93,60.61 L634.73,60.67 L635.53,60.73 L636.33,60.79 L637.12,60.84 L637.92,60.90 L638.72,60.96 L639.52,61.01 L640.32,61.07 L641.12,61.12 L641.92,61.17 L642.72,61.22 L643.51,61.27 L644.31,61.32 L645.11,61.37 L645.91,61.42 L646.71,61.47 L647.51,61.52 L648.31,61.56 L649.11,61.61 L649.90,61.65 L650.70,61.70 L651.50,61.74 L652.30,61.78 L653.10,61.83 L653.90,61.87 L654.70,61.91 L655.50,61.95 L656.29,61.99 L657.09,62.03 L657.89,62.07 L658.69,62.11 L659.49,62.15 L660.29,62.18 L661.09,62.22 L661.89,62.26 L662.68,62.29 L663.48,62.33 L664.28,62.36 L665.08,62.40 L665.88,62.43 L666.68,62.47 L667.48,62.50 L668.28,62.53 L669.07,62.57 L669.87,62.60 L670.67,62.63 L671.47,62.66 L672.27,62.69 L673.07,62.72 L673.87,62.75 L674.67,62.78 L675.46,62.81 L676.26,62.84 L677.06,62.87 L677.86,62.90 L678.66,62.93 L679.46,62.95 L680.26,62.98 L681.06,63.01 L681.85,63.04 L682.65,63.06 L683.45,63.09 L684.25,63.12"/>
<path fill="none" stroke="#000" stroke-width="0.95" d="M557.25,106.17 L558.05,104.42 L558.85,102.82 L559.65,101.35 L560.44,99.99 L561.24,98.74 L562.04,97.57 L562.84,96.49 L563.64,95.49 L564.44,94.54 L565.24,93.66 L566.04,92.83 L566.83,92.06 L567.63,91.32 L568.43,90.63 L569.23,89.98 L570.03,89.36 L570.83,88.77 L571.63,88.22 L572.43,87.69 L573.22,87.18 L574.02,86.70 L574.82,86.24 L575.62,85.81 L576.42,85.39 L577.22,84.99 L578.02,84.61 L578.82,84.24 L579.61,83.89 L580.41,83.55 L581.21,83.22 L582.01,82.91 L582.81,82.61 L583.61,82.32 L584.41,82.04 L585.21,81.77 L586.00,81.51 L586.80,81.25 L587.60,81.01 L588.40,80.78 L589.20,80.55 L590.00,80.33 L590.80,80.11 L591.60,79.91 L592.39,79.71 L593.19,79.51 L593.99,79.32 L594.79,79.14 L595.59,78.96 L596.39,78.79 L597.19,78.62 L597.99,78.46 L598.78,78.30 L599.58,78.15 L600.38,78.00 L601.18,77.85 L601.98,77.71 L602.78,77.57 L603.58,77.43 L604.38,77.30 L605.17,77.17 L605.97,77.05 L606.77,76.92 L607.57,76.80 L608.37,76.69 L609.17,76.57 L609.97,76.46 L610.77,76.35 L611.56,76.24 L612.36,76.14 L613.16,76.04 L613.96,75.94 L614.76,75.84 L615.56,75.74 L616.36,75.65 L617.16,75.56 L617.95,75.47 L618.75,75.38 L619.55,75.29 L620.35,75.21 L621.15,75.13 L621.95,75.05 L622.75,74.97 L623.55,74.89 L624.34,74.81 L625.14,74.74 L625.94,74.66 L626.74,74.59 L627.54,74.52 L628.34,74.45 L629.14,74.38 L629.94,74.31 L630.73,74.25 L631.53,74.18 L632.33,74.12 L633.13,74.05 L633.93,73.99 L634.73,73.93 L635.53,73.87 L636.33,73.81 L637.12,73.76 L637.92,73.70 L638.72,73.64 L639.52,73.59 L640.32,73.53 L641.12,73.48 L641.92,73.43 L642.72,73.38 L643.51,73.33 L644.31,73.28 L645.11,73.23 L645.91,73.18 L646.71,73.13 L647.51,73.08 L648.31,73.04 L649.11,72.99 L649.90,72.95 L650.70,72.90 L651.50,72.86 L652.30,72.82 L653.10,72.77 L653.90,72.73 L654.70,72.69 L655.50,72.65 L656.29,72.61 L657.09,72.57 L657.89,72.53 L658.69,72.49 L659.49,72.45 L660.29,72.42 L661.09,72.38 L661.89,72.34 L662.68,72.31 L663.48,72.27 L664.28,72.24 L665.08,72.20 L665.88,72.17 L666.68,72.13 L667.48,72.10 L668.28,72.07 L669.07,72.03 L669.87,72.00 L670.67,71.97 L671.47,71.94 L672.27,71.91 L673.07,71.88 L673.87,71.85 L674.67,71.82 L675.46,71.79 L676.26,71.76 L677.06,71.73 L677.86,71.70 L678.66,71.67 L679.46,71.65 L680.26,71.62 L681.06,71.59 L681.85,71.56 L682.65,71.54 L683.45,71.51 L684.25,71.48"/>
<path stroke="#222" stroke-width="0.9" d="M619.05,12.40H629.55"/>
<path stroke="#ff0000" stroke-width="0.9" d="M619.05,23.30H629.55"/>
<text class="s" x="630.15" y="16.10" textLength="17.9" lengthAdjust="spacingAndGlyphs">MMS</text>
<text class="s" x="630.15" y="27.00" textLength="47.6" lengthAdjust="spacingAndGlyphs">Experimental</text>
<text class="t" x="554.65" y="6.90" text-anchor="end">0.15</text>
<text class="t" x="554.65" y="38.65" text-anchor="end">0.075</text>
<text class="t" x="554.65" y="70.40" text-anchor="end">0</text>
<text class="t" x="554.65" y="102.15" text-anchor="end">-0.075</text>
<text class="t" x="554.65" y="133.90" text-anchor="end">-0.15</text>
<text class="t" x="557.25" y="142.00" text-anchor="middle">0</text>
<text class="t" x="608.05" y="142.00" text-anchor="middle">10</text>
<text class="t" x="658.85" y="142.00" text-anchor="middle">20</text>
<text class="l" x="613.55" y="154.40" text-anchor="middle" font-style="italic">t</text>
<text class="b" x="621.25" y="154.70" text-anchor="middle">[</text>
<text class="l" x="624.65" y="154.40" text-anchor="middle" font-style="italic">s</text>
<text class="b" x="627.85" y="154.70" text-anchor="middle">]</text>
<text class="l" x="528.65" y="62.60" text-anchor="middle" font-style="italic">x</text>
<circle cx="529.15" cy="56.50" r="0.7" fill="#1e1e1e"/>
<text class="b" x="518.05" y="75.50" text-anchor="middle">[</text>
<text class="l" x="524.05" y="75.20" text-anchor="middle" font-style="italic">m</text>
<text class="b" x="530.65" y="76.00" text-anchor="middle" style="font-size:13.5px;fill:#444">/</text>
<text class="l" x="535.95" y="75.20" text-anchor="middle" font-style="italic">s</text>
<text class="b" x="540.15" y="75.50" text-anchor="middle">]</text>
<text class="c" x="601.55" y="175.00" text-anchor="middle" textLength="83" lengthAdjust="spacingAndGlyphs">(d) Pattern 3-6</text>
</g>
<g>
<rect x="39.80" y="185.00" width="127.00" height="127.00" fill="none" stroke="#3a3a3a" stroke-width="1.25"/>
<path fill="none" stroke="#3a3a3a" stroke-width="1" d="M90.60,312.00V310.20M90.60,185.00V186.80M141.40,312.00V310.20M141.40,185.00V186.80M39.80,280.25H41.60M166.80,280.25H165.00M39.80,248.50H41.60M166.80,248.50H165.00M39.80,216.75H41.60M166.80,216.75H165.00"/>
<path fill="#ff0000" d="M39.00,214.08 L40.60,214.82 L41.40,215.55 L42.20,216.27 L42.99,216.97 L43.79,217.67 L44.59,218.35 L45.39,219.02 L46.19,219.68 L46.99,220.33 L47.79,220.96 L48.59,221.59 L49.38,222.20 L50.18,222.80 L50.98,223.39 L51.78,223.96 L52.58,224.53 L53.38,225.09 L54.18,225.63 L54.98,226.16 L55.77,226.68 L56.57,227.20 L57.37,227.70 L58.17,228.19 L58.97,228.67 L59.77,229.14 L60.57,229.60 L61.37,230.05 L62.16,230.49 L62.96,230.92 L63.76,231.34 L64.56,231.75 L65.36,232.15 L66.16,232.54 L66.96,232.93 L67.76,233.30 L68.55,233.67 L69.35,234.03 L70.15,234.38 L70.95,234.72 L71.75,235.06 L72.55,235.38 L73.35,235.70 L74.15,236.01 L74.94,236.31 L75.74,236.61 L76.54,236.90 L77.34,237.18 L78.14,237.45 L78.94,237.72 L79.74,237.98 L80.54,238.24 L81.33,238.49 L82.13,238.73 L82.93,238.97 L83.73,239.20 L84.53,239.42 L85.33,239.64 L86.13,239.85 L86.93,240.06 L87.72,240.26 L88.52,240.46 L89.32,240.65 L90.12,240.84 L90.92,241.02 L91.72,241.20 L92.52,241.37 L93.32,241.54 L94.11,241.70 L94.91,241.86 L95.71,242.02 L96.51,242.17 L97.31,242.32 L98.11,242.46 L98.91,242.60 L99.71,242.74 L100.50,242.87 L101.30,243.00 L102.10,243.12 L102.90,243.24 L103.70,243.36 L104.50,243.48 L105.30,243.59 L106.10,243.70 L106.89,243.80 L107.69,243.91 L108.49,244.01 L109.29,244.11 L110.09,244.20 L110.89,244.29 L111.69,244.38 L112.49,244.47 L113.28,244.56 L114.08,244.64 L114.88,244.72 L115.68,244.80 L116.48,244.88 L117.28,244.95 L118.08,245.02 L118.88,245.09 L119.67,245.16 L120.47,245.23 L121.27,245.29 L122.07,245.35 L122.87,245.41 L123.67,245.47 L124.47,245.53 L125.27,245.59 L126.06,245.64 L126.86,245.69 L127.66,245.75 L128.46,245.80 L129.26,245.84 L130.06,245.89 L130.86,245.94 L131.66,245.98 L132.45,246.03 L133.25,246.07 L134.05,246.11 L134.85,246.15 L135.65,246.19 L136.45,246.23 L137.25,246.26 L138.05,246.30 L138.84,246.33 L139.64,246.37 L140.44,246.40 L141.24,246.43 L142.04,246.46 L142.84,246.49 L143.64,246.52 L144.44,246.55 L145.23,246.58 L146.03,246.61 L146.83,246.63 L147.63,246.66 L148.43,246.68 L149.23,246.71 L150.03,246.73 L150.83,246.75 L151.62,246.78 L152.42,246.80 L153.22,246.82 L154.02,246.84 L154.82,246.86 L155.62,246.88 L156.42,246.90 L157.22,246.91 L158.01,246.93 L158.81,246.95 L159.61,246.97 L160.41,246.98 L161.21,247.00 L162.01,247.01 L162.81,247.03 L163.61,247.04 L164.40,247.06 L165.20,247.07 L166.00,247.08 L167.30,247.10 L167.30,249.40 L166.00,249.42 L165.20,249.43 L164.40,249.44 L163.61,249.46 L162.81,249.47 L162.01,249.49 L161.21,249.50 L160.41,249.52 L159.61,249.53 L158.81,249.55 L158.01,249.57 L157.22,249.59 L156.42,249.60 L155.62,249.62 L154.82,249.64 L154.02,249.66 L153.22,249.68 L152.42,249.70 L151.62,249.72 L150.83,249.75 L150.03,249.77 L149.23,249.79 L148.43,249.82 L147.63,249.84 L146.83,249.87 L146.03,249.89 L145.23,249.92 L144.44,249.95 L143.64,249.98 L142.84,250.01 L142.04,250.04 L141.24,250.07 L140.44,250.10 L139.64,250.13 L138.84,250.17 L138.05,250.20 L137.25,250.24 L136.45,250.27 L135.65,250.31 L134.85,250.35 L134.05,250.39 L133.25,250.43 L132.45,250.47 L131.66,250.52 L130.86,250.56 L130.06,250.61 L129.26,250.66 L128.46,250.70 L127.66,250.75 L126.86,250.81 L126.06,250.86 L125.27,250.91 L124.47,250.97 L123.67,251.03 L122.87,251.09 L122.07,251.15 L121.27,251.21 L120.47,251.27 L119.67,251.34 L118.88,251.41 L118.08,251.48 L117.28,251.55 L116.48,251.62 L115.68,251.70 L114.88,251.78 L114.08,251.86 L113.28,251.94 L112.49,252.03 L111.69,252.12 L110.89,252.21 L110.09,252.30 L109.29,252.39 L108.49,252.49 L107.69,252.59 L106.89,252.70 L106.10,252.80 L105.30,252.91 L104.50,253.02 L103.70,253.14 L102.90,253.26 L102.10,253.38 L101.30,253.50 L100.50,253.63 L99.71,253.76 L98.91,253.90 L98.11,254.04 L97.31,254.18 L96.51,254.33 L95.71,254.48 L94.91,254.64 L94.11,254.80 L93.32,254.96 L92.52,255.13 L91.72,255.30 L90.92,255.48 L90.12,255.66 L89.32,255.85 L88.52,256.04 L87.72,256.24 L86.93,256.44 L86.13,256.65 L85.33,256.86 L84.53,257.08 L83.73,257.30 L82.93,257.53 L82.13,257.77 L81.33,258.01 L80.54,258.26 L79.74,258.52 L78.94,258.78 L78.14,259.05 L77.34,259.32 L76.54,259.60 L75.74,259.89 L74.94,260.19 L74.15,260.49 L73.35,260.80 L72.55,261.12 L71.75,261.44 L70.95,261.78 L70.15,262.12 L69.35,262.47 L68.55,262.83 L67.76,263.20 L66.96,263.57 L66.16,263.96 L65.36,264.35 L64.56,264.75 L63.76,265.16 L62.96,265.58 L62.16,266.01 L61.37,266.45 L60.57,266.90 L59.77,267.36 L58.97,267.83 L58.17,268.31 L57.37,268.80 L56.57,269.30 L55.77,269.82 L54.98,270.34 L54.18,270.87 L53.38,271.41 L52.58,271.97 L51.78,272.54 L50.98,273.11 L50.18,273.70 L49.38,274.30 L48.59,274.91 L47.79,275.54 L46.99,276.17 L46.19,276.82 L45.39,277.48 L44.59,278.15 L43.79,278.83 L42.99,279.53 L42.20,280.23 L41.40,280.95 L40.60,281.68 L39.00,282.42Z"/>
<path fill="none" stroke="#000" stroke-width="0.95" d="M39.80,214.38 L40.60,215.12 L41.40,215.85 L42.20,216.57 L42.99,217.27 L43.79,217.97 L44.59,218.65 L45.39,219.32 L46.19,219.98 L46.99,220.63 L47.79,221.26 L48.59,221.89 L49.38,222.50 L50.18,223.10 L50.98,223.69 L51.78,224.26 L52.58,224.83 L53.38,225.39 L54.18,225.93 L54.98,226.46 L55.77,226.98 L56.57,227.50 L57.37,228.00 L58.17,228.49 L58.97,228.97 L59.77,229.44 L60.57,229.90 L61.37,230.35 L62.16,230.79 L62.96,231.22 L63.76,231.64 L64.56,232.05 L65.36,232.45 L66.16,232.84 L66.96,233.23 L67.76,233.60 L68.55,233.97 L69.35,234.33 L70.15,234.68 L70.95,235.02 L71.75,235.36 L72.55,235.68 L73.35,236.00 L74.15,236.31 L74.94,236.61 L75.74,236.91 L76.54,237.20 L77.34,237.48 L78.14,237.75 L78.94,238.02 L79.74,238.28 L80.54,238.54 L81.33,238.79 L82.13,239.03 L82.93,239.27 L83.73,239.50 L84.53,239.72 L85.33,239.94 L86.13,240.15 L86.93,240.36 L87.72,240.56 L88.52,240.76 L89.32,240.95 L90.12,241.14 L90.92,241.32 L91.72,241.50 L92.52,241.67 L93.32,241.84 L94.11,242.00 L94.91,242.16 L95.71,242.32 L96.51,242.47 L97.31,242.62 L98.11,242.76 L98.91,242.90 L99.71,243.04 L100.50,243.17 L101.30,243.30 L102.10,243.42 L102.90,243.54 L103.70,243.66 L104.50,243.78 L105.30,243.89 L106.10,244.00 L106.89,244.10 L107.69,244.21 L108.49,244.31 L109.29,244.41 L110.09,244.50 L110.89,244.59 L111.69,244.68 L112.49,244.77 L113.28,244.86 L114.08,244.94 L114.88,245.02 L115.68,245.10 L116.48,245.18 L117.28,245.25 L118.08,245.32 L118.88,245.39 L119.67,245.46 L120.47,245.53 L121.27,245.59 L122.07,245.65 L122.87,245.71 L123.67,245.77 L124.47,245.83 L125.27,245.89 L126.06,245.94 L126.86,245.99 L127.66,246.05 L128.46,246.10 L129.26,246.14 L130.06,246.19 L130.86,246.24 L131.66,246.28 L132.45,246.33 L133.25,246.37 L134.05,246.41 L134.85,246.45 L135.65,246.49 L136.45,246.53 L137.25,246.56 L138.05,246.60 L138.84,246.63 L139.64,246.67 L140.44,246.70 L141.24,246.73 L142.04,246.76 L142.84,246.79 L143.64,246.82 L144.44,246.85 L145.23,246.88 L146.03,246.91 L146.83,246.93 L147.63,246.96 L148.43,246.98 L149.23,247.01 L150.03,247.03 L150.83,247.05 L151.62,247.08 L152.42,247.10 L153.22,247.12 L154.02,247.14 L154.82,247.16 L155.62,247.18 L156.42,247.20 L157.22,247.21 L158.01,247.23 L158.81,247.25 L159.61,247.27 L160.41,247.28 L161.21,247.30 L162.01,247.31 L162.81,247.33 L163.61,247.34 L164.40,247.36 L165.20,247.37 L166.00,247.38 L166.80,247.40"/>
<path fill="none" stroke="#000" stroke-width="0.95" d="M39.80,282.12 L40.60,281.38 L41.40,280.65 L42.20,279.93 L42.99,279.23 L43.79,278.53 L44.59,277.85 L45.39,277.18 L46.19,276.52 L46.99,275.87 L47.79,275.24 L48.59,274.61 L49.38,274.00 L50.18,273.40 L50.98,272.81 L51.78,272.24 L52.58,271.67 L53.38,271.11 L54.18,270.57 L54.98,270.04 L55.77,269.52 L56.57,269.00 L57.37,268.50 L58.17,268.01 L58.97,267.53 L59.77,267.06 L60.57,266.60 L61.37,266.15 L62.16,265.71 L62.96,265.28 L63.76,264.86 L64.56,264.45 L65.36,264.05 L66.16,263.66 L66.96,263.27 L67.76,262.90 L68.55,262.53 L69.35,262.17 L70.15,261.82 L70.95,261.48 L71.75,261.14 L72.55,260.82 L73.35,260.50 L74.15,260.19 L74.94,259.89 L75.74,259.59 L76.54,259.30 L77.34,259.02 L78.14,258.75 L78.94,258.48 L79.74,258.22 L80.54,257.96 L81.33,257.71 L82.13,257.47 L82.93,257.23 L83.73,257.00 L84.53,256.78 L85.33,256.56 L86.13,256.35 L86.93,256.14 L87.72,255.94 L88.52,255.74 L89.32,255.55 L90.12,255.36 L90.92,255.18 L91.72,255.00 L92.52,254.83 L93.32,254.66 L94.11,254.50 L94.91,254.34 L95.71,254.18 L96.51,254.03 L97.31,253.88 L98.11,253.74 L98.91,253.60 L99.71,253.46 L100.50,253.33 L101.30,253.20 L102.10,253.08 L102.90,252.96 L103.70,252.84 L104.50,252.72 L105.30,252.61 L106.10,252.50 L106.89,252.40 L107.69,252.29 L108.49,252.19 L109.29,252.09 L110.09,252.00 L110.89,251.91 L111.69,251.82 L112.49,251.73 L113.28,251.64 L114.08,251.56 L114.88,251.48 L115.68,251.40 L116.48,251.32 L117.28,251.25 L118.08,251.18 L118.88,251.11 L119.67,251.04 L120.47,250.97 L121.27,250.91 L122.07,250.85 L122.87,250.79 L123.67,250.73 L124.47,250.67 L125.27,250.61 L126.06,250.56 L126.86,250.51 L127.66,250.45 L128.46,250.40 L129.26,250.36 L130.06,250.31 L130.86,250.26 L131.66,250.22 L132.45,250.17 L133.25,250.13 L134.05,250.09 L134.85,250.05 L135.65,250.01 L136.45,249.97 L137.25,249.94 L138.05,249.90 L138.84,249.87 L139.64,249.83 L140.44,249.80 L141.24,249.77 L142.04,249.74 L142.84,249.71 L143.64,249.68 L144.44,249.65 L145.23,249.62 L146.03,249.59 L146.83,249.57 L147.63,249.54 L148.43,249.52 L149.23,249.49 L150.03,249.47 L150.83,249.45 L151.62,249.42 L152.42,249.40 L153.22,249.38 L154.02,249.36 L154.82,249.34 L155.62,249.32 L156.42,249.30 L157.22,249.29 L158.01,249.27 L158.81,249.25 L159.61,249.23 L160.41,249.22 L161.21,249.20 L162.01,249.19 L162.81,249.17 L163.61,249.16 L164.40,249.14 L165.20,249.13 L166.00,249.12 L166.80,249.10"/>
<path stroke="#222" stroke-width="0.9" d="M101.60,193.40H112.10"/>
<path stroke="#ff0000" stroke-width="0.9" d="M101.60,204.30H112.10"/>
<text class="s" x="112.70" y="197.10" textLength="17.9" lengthAdjust="spacingAndGlyphs">MMS</text>
<text class="s" x="112.70" y="208.00" textLength="47.6" lengthAdjust="spacingAndGlyphs">Experimental</text>
<text class="t" x="37.20" y="187.90" text-anchor="end">0.15</text>
<text class="t" x="37.20" y="219.65" text-anchor="end">0.075</text>
<text class="t" x="37.20" y="251.40" text-anchor="end">0</text>
<text class="t" x="37.20" y="283.15" text-anchor="end">-0.075</text>
<text class="t" x="37.20" y="314.90" text-anchor="end">-0.15</text>
<text class="t" x="39.80" y="323.00" text-anchor="middle">0</text>
<text class="t" x="90.60" y="323.00" text-anchor="middle">10</text>
<text class="t" x="141.40" y="323.00" text-anchor="middle">20</text>
<text class="l" x="96.10" y="335.40" text-anchor="middle" font-style="italic">t</text>
<text class="b" x="103.80" y="335.70" text-anchor="middle">[</text>
<text class="l" x="107.20" y="335.40" text-anchor="middle" font-style="italic">s</text>
<text class="b" x="110.40" y="335.70" text-anchor="middle">]</text>
<text class="l" x="11.20" y="243.60" text-anchor="middle" font-style="italic">x</text>
<circle cx="11.70" cy="237.50" r="0.7" fill="#1e1e1e"/>
<text class="b" x="0.60" y="256.50" text-anchor="middle">[</text>
<text class="l" x="6.60" y="256.20" text-anchor="middle" font-style="italic">m</text>
<text class="b" x="13.20" y="257.00" text-anchor="middle" style="font-size:13.5px;fill:#444">/</text>
<text class="l" x="18.50" y="256.20" text-anchor="middle" font-style="italic">s</text>
<text class="b" x="22.70" y="256.50" text-anchor="middle">]</text>
<text class="c" x="84.10" y="356.00" text-anchor="middle" textLength="83" lengthAdjust="spacingAndGlyphs">(e) Pattern 1-5</text>
</g>
<g>
<rect x="212.30" y="185.00" width="127.00" height="127.00" fill="none" stroke="#3a3a3a" stroke-width="1.25"/>
<path fill="none" stroke="#3a3a3a" stroke-width="1" d="M263.10,312.00V310.20M263.10,185.00V186.80M313.90,312.00V310.20M313.90,185.00V186.80M212.30,280.25H214.10M339.30,280.25H337.50M212.30,248.50H214.10M339.30,248.50H337.50M212.30,216.75H214.10M339.30,216.75H337.50"/>
<path fill="#ff0000" d="M211.50,201.24 L213.10,202.42 L213.90,203.57 L214.70,204.67 L215.49,205.74 L216.29,206.77 L217.09,207.78 L217.89,208.74 L218.69,209.68 L219.49,210.59 L220.29,211.47 L221.09,212.32 L221.88,213.15 L222.68,213.95 L223.48,214.73 L224.28,215.48 L225.08,216.21 L225.88,216.92 L226.68,217.60 L227.48,218.27 L228.27,218.92 L229.07,219.54 L229.87,220.15 L230.67,220.75 L231.47,221.32 L232.27,221.88 L233.07,222.42 L233.87,222.95 L234.66,223.46 L235.46,223.96 L236.26,224.44 L237.06,224.91 L237.86,225.37 L238.66,225.82 L239.46,226.25 L240.26,226.67 L241.05,227.08 L241.85,227.48 L242.65,227.87 L243.45,228.25 L244.25,228.62 L245.05,228.98 L245.85,229.33 L246.65,229.67 L247.44,230.00 L248.24,230.33 L249.04,230.64 L249.84,230.95 L250.64,231.25 L251.44,231.55 L252.24,231.83 L253.04,232.11 L253.83,232.39 L254.63,232.65 L255.43,232.91 L256.23,233.17 L257.03,233.42 L257.83,233.66 L258.63,233.90 L259.43,234.13 L260.22,234.35 L261.02,234.58 L261.82,234.79 L262.62,235.00 L263.42,235.21 L264.22,235.42 L265.02,235.61 L265.82,235.81 L266.61,236.00 L267.41,236.19 L268.21,236.37 L269.01,236.55 L269.81,236.72 L270.61,236.89 L271.41,237.06 L272.21,237.23 L273.00,237.39 L273.80,237.55 L274.60,237.70 L275.40,237.86 L276.20,238.01 L277.00,238.15 L277.80,238.30 L278.60,238.44 L279.39,238.58 L280.19,238.72 L280.99,238.85 L281.79,238.98 L282.59,239.11 L283.39,239.24 L284.19,239.37 L284.99,239.49 L285.78,239.61 L286.58,239.73 L287.38,239.85 L288.18,239.96 L288.98,240.08 L289.78,240.19 L290.58,240.30 L291.38,240.41 L292.17,240.51 L292.97,240.62 L293.77,240.72 L294.57,240.82 L295.37,240.93 L296.17,241.02 L296.97,241.12 L297.77,241.22 L298.56,241.31 L299.36,241.41 L300.16,241.50 L300.96,241.59 L301.76,241.68 L302.56,241.77 L303.36,241.86 L304.16,241.94 L304.95,242.03 L305.75,242.11 L306.55,242.20 L307.35,242.28 L308.15,242.36 L308.95,242.44 L309.75,242.52 L310.55,242.60 L311.34,242.68 L312.14,242.75 L312.94,242.83 L313.74,242.90 L314.54,242.98 L315.34,243.05 L316.14,243.12 L316.94,243.19 L317.73,243.27 L318.53,243.34 L319.33,243.40 L320.13,243.47 L320.93,243.54 L321.73,243.61 L322.53,243.67 L323.33,243.74 L324.12,243.81 L324.92,243.87 L325.72,243.93 L326.52,244.00 L327.32,244.06 L328.12,244.12 L328.92,244.18 L329.72,244.24 L330.51,244.30 L331.31,244.36 L332.11,244.42 L332.91,244.48 L333.71,244.54 L334.51,244.59 L335.31,244.65 L336.11,244.71 L336.90,244.76 L337.70,244.82 L338.50,244.87 L339.80,244.92 L339.80,251.68 L338.50,251.73 L337.70,251.78 L336.90,251.84 L336.11,251.89 L335.31,251.95 L334.51,252.01 L333.71,252.06 L332.91,252.12 L332.11,252.18 L331.31,252.24 L330.51,252.30 L329.72,252.36 L328.92,252.42 L328.12,252.48 L327.32,252.54 L326.52,252.60 L325.72,252.67 L324.92,252.73 L324.12,252.79 L323.33,252.86 L322.53,252.93 L321.73,252.99 L320.93,253.06 L320.13,253.13 L319.33,253.20 L318.53,253.26 L317.73,253.33 L316.94,253.41 L316.14,253.48 L315.34,253.55 L314.54,253.62 L313.74,253.70 L312.94,253.77 L312.14,253.85 L311.34,253.92 L310.55,254.00 L309.75,254.08 L308.95,254.16 L308.15,254.24 L307.35,254.32 L306.55,254.40 L305.75,254.49 L304.95,254.57 L304.16,254.66 L303.36,254.74 L302.56,254.83 L301.76,254.92 L300.96,255.01 L300.16,255.10 L299.36,255.19 L298.56,255.29 L297.77,255.38 L296.97,255.48 L296.17,255.58 L295.37,255.67 L294.57,255.78 L293.77,255.88 L292.97,255.98 L292.17,256.09 L291.38,256.19 L290.58,256.30 L289.78,256.41 L288.98,256.52 L288.18,256.64 L287.38,256.75 L286.58,256.87 L285.78,256.99 L284.99,257.11 L284.19,257.23 L283.39,257.36 L282.59,257.49 L281.79,257.62 L280.99,257.75 L280.19,257.88 L279.39,258.02 L278.60,258.16 L277.80,258.30 L277.00,258.45 L276.20,258.59 L275.40,258.74 L274.60,258.90 L273.80,259.05 L273.00,259.21 L272.21,259.37 L271.41,259.54 L270.61,259.71 L269.81,259.88 L269.01,260.05 L268.21,260.23 L267.41,260.41 L266.61,260.60 L265.82,260.79 L265.02,260.99 L264.22,261.18 L263.42,261.39 L262.62,261.60 L261.82,261.81 L261.02,262.02 L260.22,262.25 L259.43,262.47 L258.63,262.70 L257.83,262.94 L257.03,263.18 L256.23,263.43 L255.43,263.69 L254.63,263.95 L253.83,264.21 L253.04,264.49 L252.24,264.77 L251.44,265.05 L250.64,265.35 L249.84,265.65 L249.04,265.96 L248.24,266.27 L247.44,266.60 L246.65,266.93 L245.85,267.27 L245.05,267.62 L244.25,267.98 L243.45,268.35 L242.65,268.73 L241.85,269.12 L241.05,269.52 L240.26,269.93 L239.46,270.35 L238.66,270.78 L237.86,271.23 L237.06,271.69 L236.26,272.16 L235.46,272.64 L234.66,273.14 L233.87,273.65 L233.07,274.18 L232.27,274.72 L231.47,275.28 L230.67,275.85 L229.87,276.45 L229.07,277.06 L228.27,277.68 L227.48,278.33 L226.68,279.00 L225.88,279.68 L225.08,280.39 L224.28,281.12 L223.48,281.87 L222.68,282.65 L221.88,283.45 L221.09,284.28 L220.29,285.13 L219.49,286.01 L218.69,286.92 L217.89,287.86 L217.09,288.82 L216.29,289.83 L215.49,290.86 L214.70,291.93 L213.90,293.03 L213.10,294.18 L211.50,295.36Z"/>
<path fill="none" stroke="#000" stroke-width="0.95" d="M212.30,200.34 L213.10,201.58 L213.90,202.78 L214.70,203.94 L215.49,205.06 L216.29,206.14 L217.09,207.19 L217.89,208.20 L218.69,209.18 L219.49,210.12 L220.29,211.04 L221.09,211.92 L221.88,212.78 L222.68,213.61 L223.48,214.41 L224.28,215.19 L225.08,215.94 L225.88,216.67 L226.68,217.38 L227.48,218.07 L228.27,218.73 L229.07,219.38 L229.87,220.00 L230.67,220.61 L231.47,221.20 L232.27,221.77 L233.07,222.33 L233.87,222.86 L234.66,223.39 L235.46,223.90 L236.26,224.39 L237.06,224.87 L237.86,225.34 L238.66,225.79 L239.46,226.23 L240.26,226.66 L241.05,227.08 L241.85,227.48 L242.65,227.88 L243.45,228.26 L244.25,228.64 L245.05,229.00 L245.85,229.36 L246.65,229.70 L247.44,230.04 L248.24,230.37 L249.04,230.69 L249.84,231.00 L250.64,231.30 L251.44,231.60 L252.24,231.89 L253.04,232.17 L253.83,232.45 L254.63,232.72 L255.43,232.98 L256.23,233.24 L257.03,233.49 L257.83,233.73 L258.63,233.97 L259.43,234.20 L260.22,234.43 L261.02,234.65 L261.82,234.87 L262.62,235.09 L263.42,235.29 L264.22,235.50 L265.02,235.70 L265.82,235.89 L266.61,236.09 L267.41,236.27 L268.21,236.46 L269.01,236.64 L269.81,236.81 L270.61,236.98 L271.41,237.15 L272.21,237.32 L273.00,237.48 L273.80,237.64 L274.60,237.80 L275.40,237.95 L276.20,238.10 L277.00,238.25 L277.80,238.39 L278.60,238.54 L279.39,238.68 L280.19,238.81 L280.99,238.95 L281.79,239.08 L282.59,239.21 L283.39,239.34 L284.19,239.46 L284.99,239.59 L285.78,239.71 L286.58,239.83 L287.38,239.95 L288.18,240.06 L288.98,240.17 L289.78,240.29 L290.58,240.40 L291.38,240.51 L292.17,240.61 L292.97,240.72 L293.77,240.82 L294.57,240.92 L295.37,241.02 L296.17,241.12 L296.97,241.22 L297.77,241.32 L298.56,241.41 L299.36,241.51 L300.16,241.60 L300.96,241.69 L301.76,241.78 L302.56,241.87 L303.36,241.96 L304.16,242.04 L304.95,242.13 L305.75,242.21 L306.55,242.30 L307.35,242.38 L308.15,242.46 L308.95,242.54 L309.75,242.62 L310.55,242.70 L311.34,242.78 L312.14,242.85 L312.94,242.93 L313.74,243.00 L314.54,243.08 L315.34,243.15 L316.14,243.22 L316.94,243.29 L317.73,243.36 L318.53,243.43 L319.33,243.50 L320.13,243.57 L320.93,243.64 L321.73,243.71 L322.53,243.77 L323.33,243.84 L324.12,243.90 L324.92,243.97 L325.72,244.03 L326.52,244.10 L327.32,244.16 L328.12,244.22 L328.92,244.28 L329.72,244.34 L330.51,244.40 L331.31,244.46 L332.11,244.52 L332.91,244.58 L333.71,244.64 L334.51,244.69 L335.31,244.75 L336.11,244.81 L336.90,244.86 L337.70,244.92 L338.50,244.97 L339.30,245.02"/>
<path fill="none" stroke="#000" stroke-width="0.95" d="M212.30,296.26 L213.10,295.02 L213.90,293.82 L214.70,292.66 L215.49,291.54 L216.29,290.46 L217.09,289.41 L217.89,288.40 L218.69,287.42 L219.49,286.48 L220.29,285.56 L221.09,284.68 L221.88,283.82 L222.68,282.99 L223.48,282.19 L224.28,281.41 L225.08,280.66 L225.88,279.93 L226.68,279.22 L227.48,278.53 L228.27,277.87 L229.07,277.22 L229.87,276.60 L230.67,275.99 L231.47,275.40 L232.27,274.83 L233.07,274.27 L233.87,273.74 L234.66,273.21 L235.46,272.70 L236.26,272.21 L237.06,271.73 L237.86,271.26 L238.66,270.81 L239.46,270.37 L240.26,269.94 L241.05,269.52 L241.85,269.12 L242.65,268.72 L243.45,268.34 L244.25,267.96 L245.05,267.60 L245.85,267.24 L246.65,266.90 L247.44,266.56 L248.24,266.23 L249.04,265.91 L249.84,265.60 L250.64,265.30 L251.44,265.00 L252.24,264.71 L253.04,264.43 L253.83,264.15 L254.63,263.88 L255.43,263.62 L256.23,263.36 L257.03,263.11 L257.83,262.87 L258.63,262.63 L259.43,262.40 L260.22,262.17 L261.02,261.95 L261.82,261.73 L262.62,261.51 L263.42,261.31 L264.22,261.10 L265.02,260.90 L265.82,260.71 L266.61,260.51 L267.41,260.33 L268.21,260.14 L269.01,259.96 L269.81,259.79 L270.61,259.62 L271.41,259.45 L272.21,259.28 L273.00,259.12 L273.80,258.96 L274.60,258.80 L275.40,258.65 L276.20,258.50 L277.00,258.35 L277.80,258.21 L278.60,258.06 L279.39,257.92 L280.19,257.79 L280.99,257.65 L281.79,257.52 L282.59,257.39 L283.39,257.26 L284.19,257.14 L284.99,257.01 L285.78,256.89 L286.58,256.77 L287.38,256.65 L288.18,256.54 L288.98,256.43 L289.78,256.31 L290.58,256.20 L291.38,256.09 L292.17,255.99 L292.97,255.88 L293.77,255.78 L294.57,255.68 L295.37,255.58 L296.17,255.48 L296.97,255.38 L297.77,255.28 L298.56,255.19 L299.36,255.09 L300.16,255.00 L300.96,254.91 L301.76,254.82 L302.56,254.73 L303.36,254.64 L304.16,254.56 L304.95,254.47 L305.75,254.39 L306.55,254.30 L307.35,254.22 L308.15,254.14 L308.95,254.06 L309.75,253.98 L310.55,253.90 L311.34,253.82 L312.14,253.75 L312.94,253.67 L313.74,253.60 L314.54,253.52 L315.34,253.45 L316.14,253.38 L316.94,253.31 L317.73,253.24 L318.53,253.17 L319.33,253.10 L320.13,253.03 L320.93,252.96 L321.73,252.89 L322.53,252.83 L323.33,252.76 L324.12,252.70 L324.92,252.63 L325.72,252.57 L326.52,252.50 L327.32,252.44 L328.12,252.38 L328.92,252.32 L329.72,252.26 L330.51,252.20 L331.31,252.14 L332.11,252.08 L332.91,252.02 L333.71,251.96 L334.51,251.91 L335.31,251.85 L336.11,251.79 L336.90,251.74 L337.70,251.68 L338.50,251.63 L339.30,251.58"/>
<path stroke="#222" stroke-width="0.9" d="M274.10,193.40H284.60"/>
<path stroke="#ff0000" stroke-width="1.6" d="M274.10,204.30H284.60"/>
<text class="s" x="285.20" y="197.10" textLength="17.9" lengthAdjust="spacingAndGlyphs">MMS</text>
<text class="s" x="285.20" y="208.00" textLength="47.6" lengthAdjust="spacingAndGlyphs">Experimental</text>
<text class="t" x="209.70" y="187.90" text-anchor="end">0.15</text>
<text class="t" x="209.70" y="219.65" text-anchor="end">0.075</text>
<text class="t" x="209.70" y="251.40" text-anchor="end">0</text>
<text class="t" x="209.70" y="283.15" text-anchor="end">-0.075</text>
<text class="t" x="209.70" y="314.90" text-anchor="end">-0.15</text>
<text class="t" x="212.30" y="323.00" text-anchor="middle">0</text>
<text class="t" x="263.10" y="323.00" text-anchor="middle">10</text>
<text class="t" x="313.90" y="323.00" text-anchor="middle">20</text>
<text class="l" x="268.60" y="335.40" text-anchor="middle" font-style="italic">t</text>
<text class="b" x="276.30" y="335.70" text-anchor="middle">[</text>
<text class="l" x="279.70" y="335.40" text-anchor="middle" font-style="italic">s</text>
<text class="b" x="282.90" y="335.70" text-anchor="middle">]</text>
<text class="l" x="183.70" y="243.60" text-anchor="middle" font-style="italic">x</text>
<circle cx="184.20" cy="237.50" r="0.7" fill="#1e1e1e"/>
<text class="b" x="173.10" y="256.50" text-anchor="middle">[</text>
<text class="l" x="179.10" y="256.20" text-anchor="middle" font-style="italic">m</text>
<text class="b" x="185.70" y="257.00" text-anchor="middle" style="font-size:13.5px;fill:#444">/</text>
<text class="l" x="191.00" y="256.20" text-anchor="middle" font-style="italic">s</text>
<text class="b" x="195.20" y="256.50" text-anchor="middle">]</text>
<text class="c" x="256.60" y="356.00" text-anchor="middle" textLength="83" lengthAdjust="spacingAndGlyphs">(f) Pattern 5-1</text>
</g>
<g>
<rect x="384.80" y="185.00" width="127.00" height="127.00" fill="none" stroke="#3a3a3a" stroke-width="1.25"/>
<path fill="none" stroke="#3a3a3a" stroke-width="1" d="M435.60,312.00V310.20M435.60,185.00V186.80M486.40,312.00V310.20M486.40,185.00V186.80M384.80,280.25H386.60M511.80,280.25H510.00M384.80,248.50H386.60M511.80,248.50H510.00M384.80,216.75H386.60M511.80,216.75H510.00"/>
<path fill="#ff0000" d="M384.00,228.75 L385.60,228.99 L386.40,229.23 L387.20,229.47 L387.99,229.71 L388.79,229.94 L389.59,230.17 L390.39,230.40 L391.19,230.62 L391.99,230.84 L392.79,231.06 L393.59,231.28 L394.38,231.50 L395.18,231.71 L395.98,231.92 L396.78,232.13 L397.58,232.33 L398.38,232.54 L399.18,232.74 L399.98,232.94 L400.77,233.14 L401.57,233.33 L402.37,233.52 L403.17,233.71 L403.97,233.90 L404.77,234.09 L405.57,234.27 L406.37,234.45 L407.16,234.63 L407.96,234.81 L408.76,234.99 L409.56,235.16 L410.36,235.33 L411.16,235.50 L411.96,235.67 L412.76,235.83 L413.55,236.00 L414.35,236.16 L415.15,236.32 L415.95,236.48 L416.75,236.63 L417.55,236.78 L418.35,236.94 L419.15,237.09 L419.94,237.23 L420.74,237.38 L421.54,237.52 L422.34,237.67 L423.14,237.81 L423.94,237.95 L424.74,238.08 L425.54,238.22 L426.33,238.35 L427.13,238.48 L427.93,238.61 L428.73,238.74 L429.53,238.87 L430.33,238.99 L431.13,239.12 L431.93,239.24 L432.72,239.36 L433.52,239.48 L434.32,239.60 L435.12,239.71 L435.92,239.83 L436.72,239.94 L437.52,240.05 L438.32,240.16 L439.11,240.27 L439.91,240.38 L440.71,240.48 L441.51,240.59 L442.31,240.69 L443.11,240.79 L443.91,240.89 L444.71,240.99 L445.50,241.08 L446.30,241.18 L447.10,241.27 L447.90,241.37 L448.70,241.46 L449.50,241.55 L450.30,241.64 L451.10,241.73 L451.89,241.82 L452.69,241.90 L453.49,241.99 L454.29,242.07 L455.09,242.15 L455.89,242.23 L456.69,242.31 L457.49,242.39 L458.28,242.47 L459.08,242.55 L459.88,242.62 L460.68,242.70 L461.48,242.77 L462.28,242.84 L463.08,242.91 L463.88,242.98 L464.67,243.05 L465.47,243.12 L466.27,243.19 L467.07,243.26 L467.87,243.32 L468.67,243.39 L469.47,243.45 L470.27,243.51 L471.06,243.57 L471.86,243.64 L472.66,243.70 L473.46,243.76 L474.26,243.81 L475.06,243.87 L475.86,243.93 L476.66,243.98 L477.45,244.04 L478.25,244.09 L479.05,244.15 L479.85,244.20 L480.65,244.25 L481.45,244.30 L482.25,244.35 L483.05,244.40 L483.84,244.45 L484.64,244.50 L485.44,244.55 L486.24,244.60 L487.04,244.64 L487.84,244.69 L488.64,244.73 L489.44,244.78 L490.23,244.82 L491.03,244.86 L491.83,244.91 L492.63,244.95 L493.43,244.99 L494.23,245.03 L495.03,245.07 L495.83,245.11 L496.62,245.15 L497.42,245.18 L498.22,245.22 L499.02,245.26 L499.82,245.30 L500.62,245.33 L501.42,245.37 L502.22,245.40 L503.01,245.44 L503.81,245.47 L504.61,245.50 L505.41,245.54 L506.21,245.57 L507.01,245.60 L507.81,245.63 L508.61,245.66 L509.40,245.69 L510.20,245.72 L511.00,245.75 L512.30,245.78 L512.30,251.02 L511.00,251.05 L510.20,251.08 L509.40,251.11 L508.61,251.14 L507.81,251.17 L507.01,251.20 L506.21,251.23 L505.41,251.26 L504.61,251.30 L503.81,251.33 L503.01,251.36 L502.22,251.40 L501.42,251.43 L500.62,251.47 L499.82,251.50 L499.02,251.54 L498.22,251.58 L497.42,251.62 L496.62,251.65 L495.83,251.69 L495.03,251.73 L494.23,251.77 L493.43,251.81 L492.63,251.85 L491.83,251.89 L491.03,251.94 L490.23,251.98 L489.44,252.02 L488.64,252.07 L487.84,252.11 L487.04,252.16 L486.24,252.20 L485.44,252.25 L484.64,252.30 L483.84,252.35 L483.05,252.40 L482.25,252.45 L481.45,252.50 L480.65,252.55 L479.85,252.60 L479.05,252.65 L478.25,252.71 L477.45,252.76 L476.66,252.82 L475.86,252.87 L475.06,252.93 L474.26,252.99 L473.46,253.04 L472.66,253.10 L471.86,253.16 L471.06,253.23 L470.27,253.29 L469.47,253.35 L468.67,253.41 L467.87,253.48 L467.07,253.54 L466.27,253.61 L465.47,253.68 L464.67,253.75 L463.88,253.82 L463.08,253.89 L462.28,253.96 L461.48,254.03 L460.68,254.10 L459.88,254.18 L459.08,254.25 L458.28,254.33 L457.49,254.41 L456.69,254.49 L455.89,254.57 L455.09,254.65 L454.29,254.73 L453.49,254.81 L452.69,254.90 L451.89,254.98 L451.10,255.07 L450.30,255.16 L449.50,255.25 L448.70,255.34 L447.90,255.43 L447.10,255.53 L446.30,255.62 L445.50,255.72 L444.71,255.81 L443.91,255.91 L443.11,256.01 L442.31,256.11 L441.51,256.21 L440.71,256.32 L439.91,256.42 L439.11,256.53 L438.32,256.64 L437.52,256.75 L436.72,256.86 L435.92,256.97 L435.12,257.09 L434.32,257.20 L433.52,257.32 L432.72,257.44 L431.93,257.56 L431.13,257.68 L430.33,257.81 L429.53,257.93 L428.73,258.06 L427.93,258.19 L427.13,258.32 L426.33,258.45 L425.54,258.58 L424.74,258.72 L423.94,258.85 L423.14,258.99 L422.34,259.13 L421.54,259.28 L420.74,259.42 L419.94,259.57 L419.15,259.71 L418.35,259.86 L417.55,260.02 L416.75,260.17 L415.95,260.32 L415.15,260.48 L414.35,260.64 L413.55,260.80 L412.76,260.97 L411.96,261.13 L411.16,261.30 L410.36,261.47 L409.56,261.64 L408.76,261.81 L407.96,261.99 L407.16,262.17 L406.37,262.35 L405.57,262.53 L404.77,262.71 L403.97,262.90 L403.17,263.09 L402.37,263.28 L401.57,263.47 L400.77,263.66 L399.98,263.86 L399.18,264.06 L398.38,264.26 L397.58,264.47 L396.78,264.67 L395.98,264.88 L395.18,265.09 L394.38,265.30 L393.59,265.52 L392.79,265.74 L391.99,265.96 L391.19,266.18 L390.39,266.40 L389.59,266.63 L388.79,266.86 L387.99,267.09 L387.20,267.33 L386.40,267.57 L385.60,267.81 L384.00,268.05Z"/>
<path fill="none" stroke="#000" stroke-width="0.95" d="M384.80,229.05 L385.60,229.29 L386.40,229.53 L387.20,229.77 L387.99,230.01 L388.79,230.24 L389.59,230.47 L390.39,230.70 L391.19,230.92 L391.99,231.14 L392.79,231.36 L393.59,231.58 L394.38,231.80 L395.18,232.01 L395.98,232.22 L396.78,232.43 L397.58,232.63 L398.38,232.84 L399.18,233.04 L399.98,233.24 L400.77,233.44 L401.57,233.63 L402.37,233.82 L403.17,234.01 L403.97,234.20 L404.77,234.39 L405.57,234.57 L406.37,234.75 L407.16,234.93 L407.96,235.11 L408.76,235.29 L409.56,235.46 L410.36,235.63 L411.16,235.80 L411.96,235.97 L412.76,236.13 L413.55,236.30 L414.35,236.46 L415.15,236.62 L415.95,236.78 L416.75,236.93 L417.55,237.08 L418.35,237.24 L419.15,237.39 L419.94,237.53 L420.74,237.68 L421.54,237.82 L422.34,237.97 L423.14,238.11 L423.94,238.25 L424.74,238.38 L425.54,238.52 L426.33,238.65 L427.13,238.78 L427.93,238.91 L428.73,239.04 L429.53,239.17 L430.33,239.29 L431.13,239.42 L431.93,239.54 L432.72,239.66 L433.52,239.78 L434.32,239.90 L435.12,240.01 L435.92,240.13 L436.72,240.24 L437.52,240.35 L438.32,240.46 L439.11,240.57 L439.91,240.68 L440.71,240.78 L441.51,240.89 L442.31,240.99 L443.11,241.09 L443.91,241.19 L444.71,241.29 L445.50,241.38 L446.30,241.48 L447.10,241.57 L447.90,241.67 L448.70,241.76 L449.50,241.85 L450.30,241.94 L451.10,242.03 L451.89,242.12 L452.69,242.20 L453.49,242.29 L454.29,242.37 L455.09,242.45 L455.89,242.53 L456.69,242.61 L457.49,242.69 L458.28,242.77 L459.08,242.85 L459.88,242.92 L460.68,243.00 L461.48,243.07 L462.28,243.14 L463.08,243.21 L463.88,243.28 L464.67,243.35 L465.47,243.42 L466.27,243.49 L467.07,243.56 L467.87,243.62 L468.67,243.69 L469.47,243.75 L470.27,243.81 L471.06,243.87 L471.86,243.94 L472.66,244.00 L473.46,244.06 L474.26,244.11 L475.06,244.17 L475.86,244.23 L476.66,244.28 L477.45,244.34 L478.25,244.39 L479.05,244.45 L479.85,244.50 L480.65,244.55 L481.45,244.60 L482.25,244.65 L483.05,244.70 L483.84,244.75 L484.64,244.80 L485.44,244.85 L486.24,244.90 L487.04,244.94 L487.84,244.99 L488.64,245.03 L489.44,245.08 L490.23,245.12 L491.03,245.16 L491.83,245.21 L492.63,245.25 L493.43,245.29 L494.23,245.33 L495.03,245.37 L495.83,245.41 L496.62,245.45 L497.42,245.48 L498.22,245.52 L499.02,245.56 L499.82,245.60 L500.62,245.63 L501.42,245.67 L502.22,245.70 L503.01,245.74 L503.81,245.77 L504.61,245.80 L505.41,245.84 L506.21,245.87 L507.01,245.90 L507.81,245.93 L508.61,245.96 L509.40,245.99 L510.20,246.02 L511.00,246.05 L511.80,246.08"/>
<path fill="none" stroke="#000" stroke-width="0.95" d="M384.80,267.75 L385.60,267.51 L386.40,267.27 L387.20,267.03 L387.99,266.79 L388.79,266.56 L389.59,266.33 L390.39,266.10 L391.19,265.88 L391.99,265.66 L392.79,265.44 L393.59,265.22 L394.38,265.00 L395.18,264.79 L395.98,264.58 L396.78,264.37 L397.58,264.17 L398.38,263.96 L399.18,263.76 L399.98,263.56 L400.77,263.36 L401.57,263.17 L402.37,262.98 L403.17,262.79 L403.97,262.60 L404.77,262.41 L405.57,262.23 L406.37,262.05 L407.16,261.87 L407.96,261.69 L408.76,261.51 L409.56,261.34 L410.36,261.17 L411.16,261.00 L411.96,260.83 L412.76,260.67 L413.55,260.50 L414.35,260.34 L415.15,260.18 L415.95,260.02 L416.75,259.87 L417.55,259.72 L418.35,259.56 L419.15,259.41 L419.94,259.27 L420.74,259.12 L421.54,258.98 L422.34,258.83 L423.14,258.69 L423.94,258.55 L424.74,258.42 L425.54,258.28 L426.33,258.15 L427.13,258.02 L427.93,257.89 L428.73,257.76 L429.53,257.63 L430.33,257.51 L431.13,257.38 L431.93,257.26 L432.72,257.14 L433.52,257.02 L434.32,256.90 L435.12,256.79 L435.92,256.67 L436.72,256.56 L437.52,256.45 L438.32,256.34 L439.11,256.23 L439.91,256.12 L440.71,256.02 L441.51,255.91 L442.31,255.81 L443.11,255.71 L443.91,255.61 L444.71,255.51 L445.50,255.42 L446.30,255.32 L447.10,255.23 L447.90,255.13 L448.70,255.04 L449.50,254.95 L450.30,254.86 L451.10,254.77 L451.89,254.68 L452.69,254.60 L453.49,254.51 L454.29,254.43 L455.09,254.35 L455.89,254.27 L456.69,254.19 L457.49,254.11 L458.28,254.03 L459.08,253.95 L459.88,253.88 L460.68,253.80 L461.48,253.73 L462.28,253.66 L463.08,253.59 L463.88,253.52 L464.67,253.45 L465.47,253.38 L466.27,253.31 L467.07,253.24 L467.87,253.18 L468.67,253.11 L469.47,253.05 L470.27,252.99 L471.06,252.93 L471.86,252.86 L472.66,252.80 L473.46,252.74 L474.26,252.69 L475.06,252.63 L475.86,252.57 L476.66,252.52 L477.45,252.46 L478.25,252.41 L479.05,252.35 L479.85,252.30 L480.65,252.25 L481.45,252.20 L482.25,252.15 L483.05,252.10 L483.84,252.05 L484.64,252.00 L485.44,251.95 L486.24,251.90 L487.04,251.86 L487.84,251.81 L488.64,251.77 L489.44,251.72 L490.23,251.68 L491.03,251.64 L491.83,251.59 L492.63,251.55 L493.43,251.51 L494.23,251.47 L495.03,251.43 L495.83,251.39 L496.62,251.35 L497.42,251.32 L498.22,251.28 L499.02,251.24 L499.82,251.20 L500.62,251.17 L501.42,251.13 L502.22,251.10 L503.01,251.06 L503.81,251.03 L504.61,251.00 L505.41,250.96 L506.21,250.93 L507.01,250.90 L507.81,250.87 L508.61,250.84 L509.40,250.81 L510.20,250.78 L511.00,250.75 L511.80,250.72"/>
<path stroke="#222" stroke-width="0.9" d="M446.60,193.40H457.10"/>
<path stroke="#ff0000" stroke-width="1.3" d="M446.60,204.30H457.10"/>
<text class="s" x="457.70" y="197.10" textLength="17.9" lengthAdjust="spacingAndGlyphs">MMS</text>
<text class="s" x="457.70" y="208.00" textLength="47.6" lengthAdjust="spacingAndGlyphs">Experimental</text>
<text class="t" x="382.20" y="187.90" text-anchor="end">0.15</text>
<text class="t" x="382.20" y="219.65" text-anchor="end">0.075</text>
<text class="t" x="382.20" y="251.40" text-anchor="end">0</text>
<text class="t" x="382.20" y="283.15" text-anchor="end">-0.075</text>
<text class="t" x="382.20" y="314.90" text-anchor="end">-0.15</text>
<text class="t" x="384.80" y="323.00" text-anchor="middle">0</text>
<text class="t" x="435.60" y="323.00" text-anchor="middle">10</text>
<text class="t" x="486.40" y="323.00" text-anchor="middle">20</text>
<text class="l" x="441.10" y="335.40" text-anchor="middle" font-style="italic">t</text>
<text class="b" x="448.80" y="335.70" text-anchor="middle">[</text>
<text class="l" x="452.20" y="335.40" text-anchor="middle" font-style="italic">s</text>
<text class="b" x="455.40" y="335.70" text-anchor="middle">]</text>
<text class="l" x="356.20" y="243.60" text-anchor="middle" font-style="italic">x</text>
<circle cx="356.70" cy="237.50" r="0.7" fill="#1e1e1e"/>
<text class="b" x="345.60" y="256.50" text-anchor="middle">[</text>
<text class="l" x="351.60" y="256.20" text-anchor="middle" font-style="italic">m</text>
<text class="b" x="358.20" y="257.00" text-anchor="middle" style="font-size:13.5px;fill:#444">/</text>
<text class="l" x="363.50" y="256.20" text-anchor="middle" font-style="italic">s</text>
<text class="b" x="367.70" y="256.50" text-anchor="middle">]</text>
<text class="c" x="429.10" y="356.00" text-anchor="middle" textLength="83" lengthAdjust="spacingAndGlyphs">(g) Pattern 4-3</text>
</g>
<g>
<rect x="557.25" y="185.00" width="127.00" height="127.00" fill="none" stroke="#3a3a3a" stroke-width="1.25"/>
<path fill="none" stroke="#3a3a3a" stroke-width="1" d="M608.05,312.00V310.20M608.05,185.00V186.80M658.85,312.00V310.20M658.85,185.00V186.80M557.25,280.25H559.05M684.25,280.25H682.45M557.25,248.50H559.05M684.25,248.50H682.45M557.25,216.75H559.05M684.25,216.75H682.45"/>
<path fill="#ff0000" d="M556.45,224.55 L558.05,224.78 L558.85,225.01 L559.65,225.23 L560.44,225.46 L561.24,225.68 L562.04,225.89 L562.84,226.11 L563.64,226.33 L564.44,226.54 L565.24,226.75 L566.04,226.96 L566.83,227.17 L567.63,227.37 L568.43,227.58 L569.23,227.78 L570.03,227.98 L570.83,228.18 L571.63,228.38 L572.43,228.57 L573.22,228.76 L574.02,228.96 L574.82,229.15 L575.62,229.33 L576.42,229.52 L577.22,229.71 L578.02,229.89 L578.82,230.07 L579.61,230.25 L580.41,230.43 L581.21,230.60 L582.01,230.78 L582.81,230.95 L583.61,231.12 L584.41,231.29 L585.21,231.46 L586.00,231.62 L586.80,231.79 L587.60,231.95 L588.40,232.11 L589.20,232.27 L590.00,232.43 L590.80,232.58 L591.60,232.74 L592.39,232.89 L593.19,233.04 L593.99,233.19 L594.79,233.34 L595.59,233.49 L596.39,233.63 L597.19,233.77 L597.99,233.92 L598.78,234.06 L599.58,234.20 L600.38,234.33 L601.18,234.47 L601.98,234.60 L602.78,234.74 L603.58,234.87 L604.38,235.00 L605.17,235.13 L605.97,235.26 L606.77,235.38 L607.57,235.51 L608.37,235.63 L609.17,235.75 L609.97,235.87 L610.77,235.99 L611.56,236.11 L612.36,236.23 L613.16,236.34 L613.96,236.45 L614.76,236.57 L615.56,236.68 L616.36,236.79 L617.16,236.90 L617.95,237.01 L618.75,237.11 L619.55,237.22 L620.35,237.32 L621.15,237.42 L621.95,237.52 L622.75,237.62 L623.55,237.72 L624.34,237.82 L625.14,237.92 L625.94,238.01 L626.74,238.11 L627.54,238.20 L628.34,238.29 L629.14,238.39 L629.94,238.48 L630.73,238.56 L631.53,238.65 L632.33,238.74 L633.13,238.82 L633.93,238.91 L634.73,238.99 L635.53,239.08 L636.33,239.16 L637.12,239.24 L637.92,239.32 L638.72,239.40 L639.52,239.47 L640.32,239.55 L641.12,239.63 L641.92,239.70 L642.72,239.78 L643.51,239.85 L644.31,239.92 L645.11,239.99 L645.91,240.06 L646.71,240.13 L647.51,240.20 L648.31,240.27 L649.11,240.34 L649.90,240.40 L650.70,240.47 L651.50,240.53 L652.30,240.59 L653.10,240.66 L653.90,240.72 L654.70,240.78 L655.50,240.84 L656.29,240.90 L657.09,240.96 L657.89,241.02 L658.69,241.07 L659.49,241.13 L660.29,241.18 L661.09,241.24 L661.89,241.29 L662.68,241.35 L663.48,241.40 L664.28,241.45 L665.08,241.50 L665.88,241.55 L666.68,241.60 L667.48,241.65 L668.28,241.70 L669.07,241.75 L669.87,241.80 L670.67,241.84 L671.47,241.89 L672.27,241.93 L673.07,241.98 L673.87,242.02 L674.67,242.07 L675.46,242.11 L676.26,242.15 L677.06,242.19 L677.86,242.23 L678.66,242.27 L679.46,242.31 L680.26,242.35 L681.06,242.39 L681.85,242.43 L682.65,242.47 L683.45,242.50 L684.75,242.54 L684.75,254.16 L683.45,254.20 L682.65,254.23 L681.85,254.27 L681.06,254.31 L680.26,254.35 L679.46,254.39 L678.66,254.43 L677.86,254.47 L677.06,254.51 L676.26,254.55 L675.46,254.59 L674.67,254.63 L673.87,254.68 L673.07,254.72 L672.27,254.77 L671.47,254.81 L670.67,254.86 L669.87,254.90 L669.07,254.95 L668.28,255.00 L667.48,255.05 L666.68,255.10 L665.88,255.15 L665.08,255.20 L664.28,255.25 L663.48,255.30 L662.68,255.35 L661.89,255.41 L661.09,255.46 L660.29,255.52 L659.49,255.57 L658.69,255.63 L657.89,255.68 L657.09,255.74 L656.29,255.80 L655.50,255.86 L654.70,255.92 L653.90,255.98 L653.10,256.04 L652.30,256.11 L651.50,256.17 L650.70,256.23 L649.90,256.30 L649.11,256.36 L648.31,256.43 L647.51,256.50 L646.71,256.57 L645.91,256.64 L645.11,256.71 L644.31,256.78 L643.51,256.85 L642.72,256.92 L641.92,257.00 L641.12,257.07 L640.32,257.15 L639.52,257.23 L638.72,257.30 L637.92,257.38 L637.12,257.46 L636.33,257.54 L635.53,257.62 L634.73,257.71 L633.93,257.79 L633.13,257.88 L632.33,257.96 L631.53,258.05 L630.73,258.14 L629.94,258.22 L629.14,258.31 L628.34,258.41 L627.54,258.50 L626.74,258.59 L625.94,258.69 L625.14,258.78 L624.34,258.88 L623.55,258.98 L622.75,259.08 L621.95,259.18 L621.15,259.28 L620.35,259.38 L619.55,259.48 L618.75,259.59 L617.95,259.69 L617.16,259.80 L616.36,259.91 L615.56,260.02 L614.76,260.13 L613.96,260.25 L613.16,260.36 L612.36,260.47 L611.56,260.59 L610.77,260.71 L609.97,260.83 L609.17,260.95 L608.37,261.07 L607.57,261.19 L606.77,261.32 L605.97,261.44 L605.17,261.57 L604.38,261.70 L603.58,261.83 L602.78,261.96 L601.98,262.10 L601.18,262.23 L600.38,262.37 L599.58,262.50 L598.78,262.64 L597.99,262.78 L597.19,262.93 L596.39,263.07 L595.59,263.21 L594.79,263.36 L593.99,263.51 L593.19,263.66 L592.39,263.81 L591.60,263.96 L590.80,264.12 L590.00,264.27 L589.20,264.43 L588.40,264.59 L587.60,264.75 L586.80,264.91 L586.00,265.08 L585.21,265.24 L584.41,265.41 L583.61,265.58 L582.81,265.75 L582.01,265.92 L581.21,266.10 L580.41,266.27 L579.61,266.45 L578.82,266.63 L578.02,266.81 L577.22,266.99 L576.42,267.18 L575.62,267.37 L574.82,267.55 L574.02,267.74 L573.22,267.94 L572.43,268.13 L571.63,268.32 L570.83,268.52 L570.03,268.72 L569.23,268.92 L568.43,269.12 L567.63,269.33 L566.83,269.53 L566.04,269.74 L565.24,269.95 L564.44,270.16 L563.64,270.37 L562.84,270.59 L562.04,270.81 L561.24,271.02 L560.44,271.24 L559.65,271.47 L558.85,271.69 L558.05,271.92 L556.45,272.15Z"/>
<path fill="none" stroke="#000" stroke-width="0.95" d="M557.25,224.85 L558.05,225.08 L558.85,225.31 L559.65,225.53 L560.44,225.76 L561.24,225.98 L562.04,226.19 L562.84,226.41 L563.64,226.63 L564.44,226.84 L565.24,227.05 L566.04,227.26 L566.83,227.47 L567.63,227.67 L568.43,227.88 L569.23,228.08 L570.03,228.28 L570.83,228.48 L571.63,228.68 L572.43,228.87 L573.22,229.06 L574.02,229.26 L574.82,229.45 L575.62,229.63 L576.42,229.82 L577.22,230.01 L578.02,230.19 L578.82,230.37 L579.61,230.55 L580.41,230.73 L581.21,230.90 L582.01,231.08 L582.81,231.25 L583.61,231.42 L584.41,231.59 L585.21,231.76 L586.00,231.92 L586.80,232.09 L587.60,232.25 L588.40,232.41 L589.20,232.57 L590.00,232.73 L590.80,232.88 L591.60,233.04 L592.39,233.19 L593.19,233.34 L593.99,233.49 L594.79,233.64 L595.59,233.79 L596.39,233.93 L597.19,234.07 L597.99,234.22 L598.78,234.36 L599.58,234.50 L600.38,234.63 L601.18,234.77 L601.98,234.90 L602.78,235.04 L603.58,235.17 L604.38,235.30 L605.17,235.43 L605.97,235.56 L606.77,235.68 L607.57,235.81 L608.37,235.93 L609.17,236.05 L609.97,236.17 L610.77,236.29 L611.56,236.41 L612.36,236.53 L613.16,236.64 L613.96,236.75 L614.76,236.87 L615.56,236.98 L616.36,237.09 L617.16,237.20 L617.95,237.31 L618.75,237.41 L619.55,237.52 L620.35,237.62 L621.15,237.72 L621.95,237.82 L622.75,237.92 L623.55,238.02 L624.34,238.12 L625.14,238.22 L625.94,238.31 L626.74,238.41 L627.54,238.50 L628.34,238.59 L629.14,238.69 L629.94,238.78 L630.73,238.86 L631.53,238.95 L632.33,239.04 L633.13,239.12 L633.93,239.21 L634.73,239.29 L635.53,239.38 L636.33,239.46 L637.12,239.54 L637.92,239.62 L638.72,239.70 L639.52,239.77 L640.32,239.85 L641.12,239.93 L641.92,240.00 L642.72,240.08 L643.51,240.15 L644.31,240.22 L645.11,240.29 L645.91,240.36 L646.71,240.43 L647.51,240.50 L648.31,240.57 L649.11,240.64 L649.90,240.70 L650.70,240.77 L651.50,240.83 L652.30,240.89 L653.10,240.96 L653.90,241.02 L654.70,241.08 L655.50,241.14 L656.29,241.20 L657.09,241.26 L657.89,241.32 L658.69,241.37 L659.49,241.43 L660.29,241.48 L661.09,241.54 L661.89,241.59 L662.68,241.65 L663.48,241.70 L664.28,241.75 L665.08,241.80 L665.88,241.85 L666.68,241.90 L667.48,241.95 L668.28,242.00 L669.07,242.05 L669.87,242.10 L670.67,242.14 L671.47,242.19 L672.27,242.23 L673.07,242.28 L673.87,242.32 L674.67,242.37 L675.46,242.41 L676.26,242.45 L677.06,242.49 L677.86,242.53 L678.66,242.57 L679.46,242.61 L680.26,242.65 L681.06,242.69 L681.85,242.73 L682.65,242.77 L683.45,242.80 L684.25,242.84"/>
<path fill="none" stroke="#000" stroke-width="0.95" d="M557.25,271.85 L558.05,271.62 L558.85,271.39 L559.65,271.17 L560.44,270.94 L561.24,270.72 L562.04,270.51 L562.84,270.29 L563.64,270.07 L564.44,269.86 L565.24,269.65 L566.04,269.44 L566.83,269.23 L567.63,269.03 L568.43,268.82 L569.23,268.62 L570.03,268.42 L570.83,268.22 L571.63,268.02 L572.43,267.83 L573.22,267.64 L574.02,267.44 L574.82,267.25 L575.62,267.07 L576.42,266.88 L577.22,266.69 L578.02,266.51 L578.82,266.33 L579.61,266.15 L580.41,265.97 L581.21,265.80 L582.01,265.62 L582.81,265.45 L583.61,265.28 L584.41,265.11 L585.21,264.94 L586.00,264.78 L586.80,264.61 L587.60,264.45 L588.40,264.29 L589.20,264.13 L590.00,263.97 L590.80,263.82 L591.60,263.66 L592.39,263.51 L593.19,263.36 L593.99,263.21 L594.79,263.06 L595.59,262.91 L596.39,262.77 L597.19,262.63 L597.99,262.48 L598.78,262.34 L599.58,262.20 L600.38,262.07 L601.18,261.93 L601.98,261.80 L602.78,261.66 L603.58,261.53 L604.38,261.40 L605.17,261.27 L605.97,261.14 L606.77,261.02 L607.57,260.89 L608.37,260.77 L609.17,260.65 L609.97,260.53 L610.77,260.41 L611.56,260.29 L612.36,260.17 L613.16,260.06 L613.96,259.95 L614.76,259.83 L615.56,259.72 L616.36,259.61 L617.16,259.50 L617.95,259.39 L618.75,259.29 L619.55,259.18 L620.35,259.08 L621.15,258.98 L621.95,258.88 L622.75,258.78 L623.55,258.68 L624.34,258.58 L625.14,258.48 L625.94,258.39 L626.74,258.29 L627.54,258.20 L628.34,258.11 L629.14,258.01 L629.94,257.92 L630.73,257.84 L631.53,257.75 L632.33,257.66 L633.13,257.58 L633.93,257.49 L634.73,257.41 L635.53,257.32 L636.33,257.24 L637.12,257.16 L637.92,257.08 L638.72,257.00 L639.52,256.93 L640.32,256.85 L641.12,256.77 L641.92,256.70 L642.72,256.62 L643.51,256.55 L644.31,256.48 L645.11,256.41 L645.91,256.34 L646.71,256.27 L647.51,256.20 L648.31,256.13 L649.11,256.06 L649.90,256.00 L650.70,255.93 L651.50,255.87 L652.30,255.81 L653.10,255.74 L653.90,255.68 L654.70,255.62 L655.50,255.56 L656.29,255.50 L657.09,255.44 L657.89,255.38 L658.69,255.33 L659.49,255.27 L660.29,255.22 L661.09,255.16 L661.89,255.11 L662.68,255.05 L663.48,255.00 L664.28,254.95 L665.08,254.90 L665.88,254.85 L666.68,254.80 L667.48,254.75 L668.28,254.70 L669.07,254.65 L669.87,254.60 L670.67,254.56 L671.47,254.51 L672.27,254.47 L673.07,254.42 L673.87,254.38 L674.67,254.33 L675.46,254.29 L676.26,254.25 L677.06,254.21 L677.86,254.17 L678.66,254.13 L679.46,254.09 L680.26,254.05 L681.06,254.01 L681.85,253.97 L682.65,253.93 L683.45,253.90 L684.25,253.86"/>
<path stroke="#222" stroke-width="0.9" d="M619.05,193.40H629.55"/>
<path stroke="#ff0000" stroke-width="0.9" d="M619.05,204.30H629.55"/>
<text class="s" x="630.15" y="197.10" textLength="17.9" lengthAdjust="spacingAndGlyphs">MMS</text>
<text class="s" x="630.15" y="208.00" textLength="47.6" lengthAdjust="spacingAndGlyphs">Experimental</text>
<text class="t" x="554.65" y="187.90" text-anchor="end">0.15</text>
<text class="t" x="554.65" y="219.65" text-anchor="end">0.075</text>
<text class="t" x="554.65" y="251.40" text-anchor="end">0</text>
<text class="t" x="554.65" y="283.15" text-anchor="end">-0.075</text>
<text class="t" x="554.65" y="314.90" text-anchor="end">-0.15</text>
<text class="t" x="557.25" y="323.00" text-anchor="middle">0</text>
<text class="t" x="608.05" y="323.00" text-anchor="middle">10</text>
<text class="t" x="658.85" y="323.00" text-anchor="middle">20</text>
<text class="l" x="613.55" y="335.40" text-anchor="middle" font-style="italic">t</text>
<text class="b" x="621.25" y="335.70" text-anchor="middle">[</text>
<text class="l" x="624.65" y="335.40" text-anchor="middle" font-style="italic">s</text>
<text class="b" x="627.85" y="335.70" text-anchor="middle">]</text>
<text class="l" x="528.65" y="243.60" text-anchor="middle" font-style="italic">x</text>
<circle cx="529.15" cy="237.50" r="0.7" fill="#1e1e1e"/>
<text class="b" x="518.05" y="256.50" text-anchor="middle">[</text>
<text class="l" x="524.05" y="256.20" text-anchor="middle" font-style="italic">m</text>
<text class="b" x="530.65" y="257.00" text-anchor="middle" style="font-size:13.5px;fill:#444">/</text>
<text class="l" x="535.95" y="256.20" text-anchor="middle" font-style="italic">s</text>
<text class="b" x="540.15" y="256.50" text-anchor="middle">]</text>
<text class="c" x="601.55" y="356.00" text-anchor="middle" textLength="83" lengthAdjust="spacingAndGlyphs">(h) Pattern 5-5</text>
</g>
</svg>
</body></html>
